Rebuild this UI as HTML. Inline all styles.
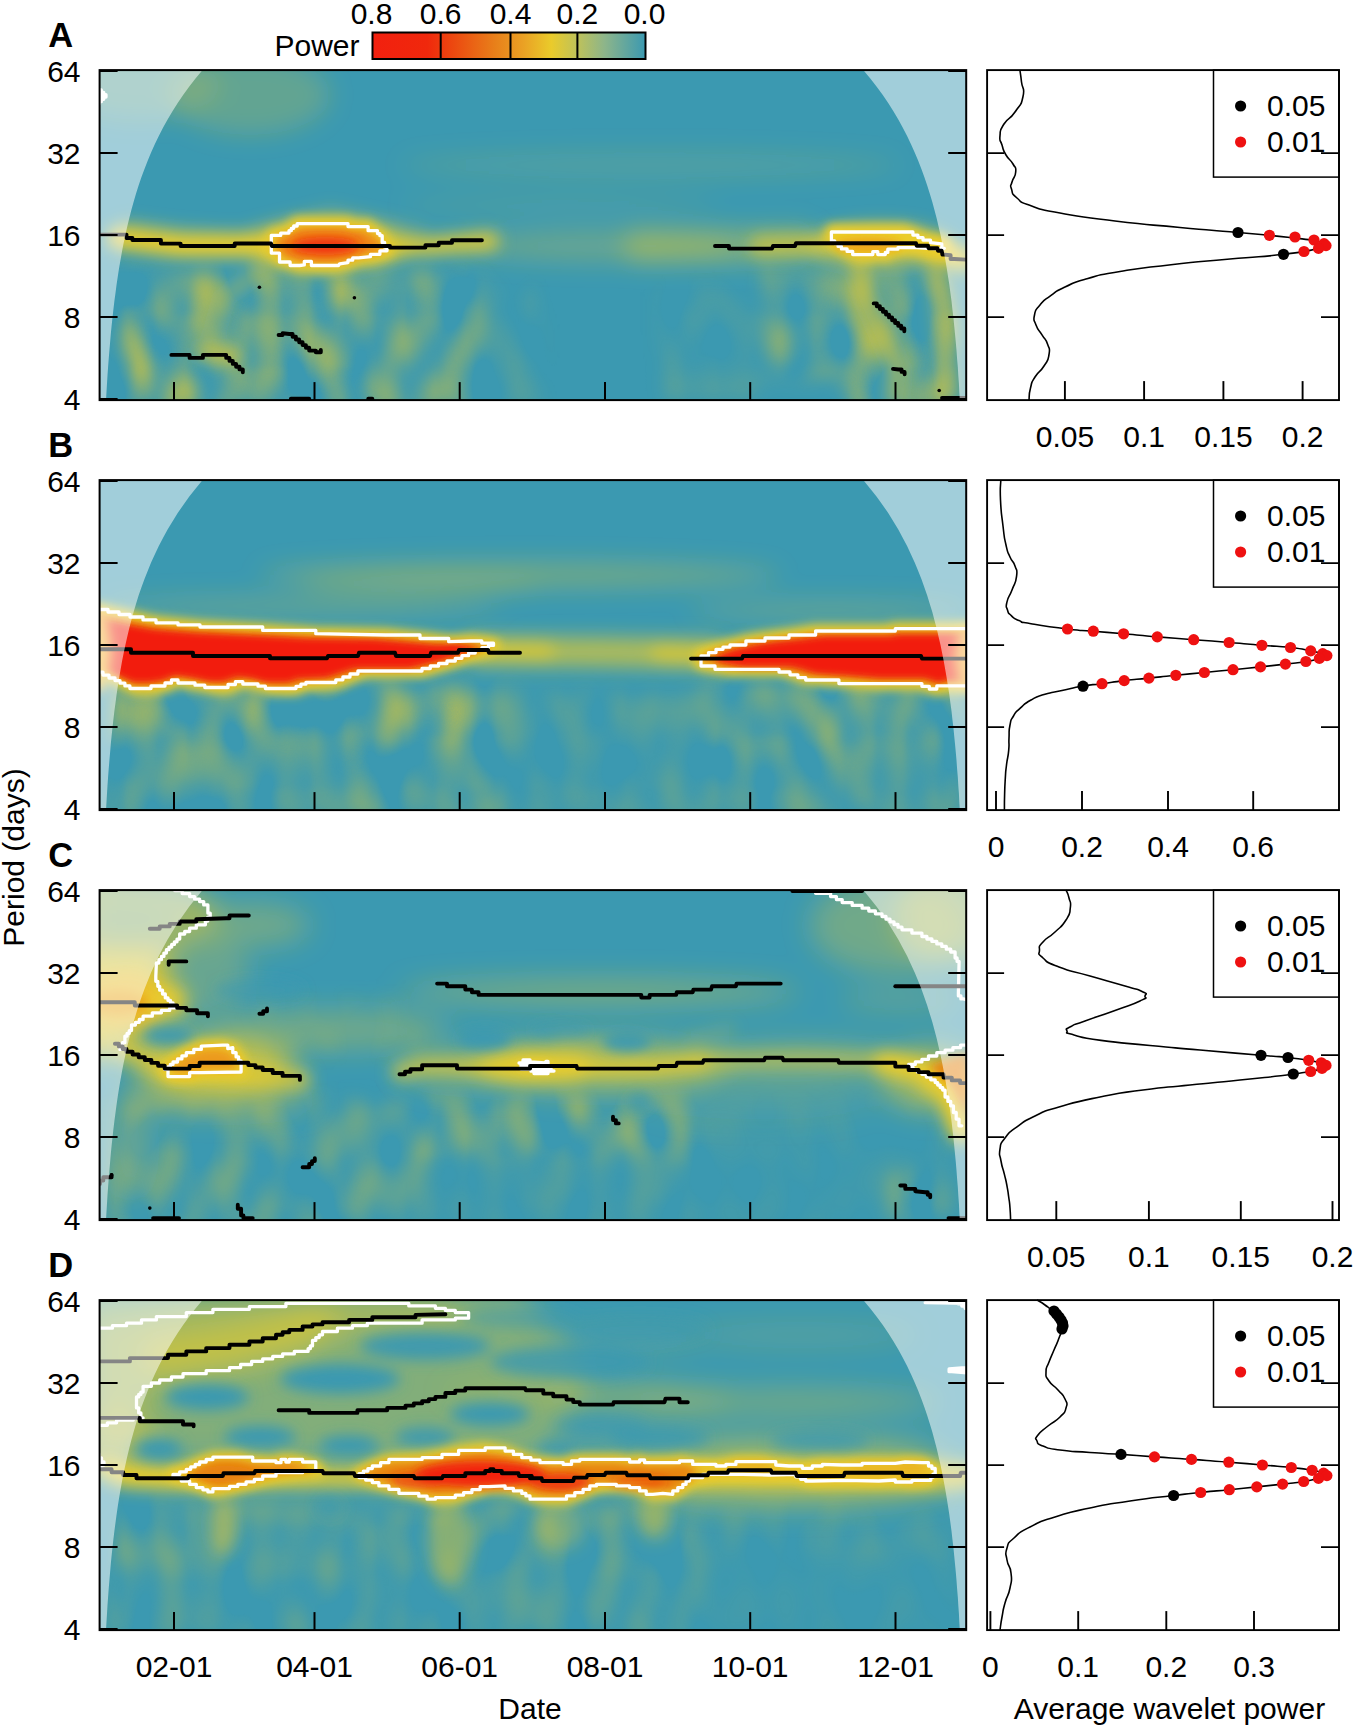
<!DOCTYPE html>
<html><head><meta charset="utf-8"><title>Wavelet power spectra</title>
<style>html,body{margin:0;padding:0;background:#fff}svg{display:block}text{font-family:"Liberation Sans",Arial,Helvetica,sans-serif}</style></head><body>
<svg width="1355" height="1728" viewBox="0 0 1355 1728">
<defs>
<filter id="b2p0" filterUnits="userSpaceOnUse" x="30" y="0" width="1007" height="470"><feGaussianBlur stdDeviation="2"/></filter>
<filter id="b3p0" filterUnits="userSpaceOnUse" x="30" y="0" width="1007" height="470"><feGaussianBlur stdDeviation="3"/></filter>
<filter id="b4p0" filterUnits="userSpaceOnUse" x="30" y="0" width="1007" height="470"><feGaussianBlur stdDeviation="4"/></filter>
<filter id="b5p0" filterUnits="userSpaceOnUse" x="30" y="0" width="1007" height="470"><feGaussianBlur stdDeviation="5"/></filter>
<filter id="b6p0" filterUnits="userSpaceOnUse" x="30" y="0" width="1007" height="470"><feGaussianBlur stdDeviation="6"/></filter>
<filter id="b7p0" filterUnits="userSpaceOnUse" x="30" y="0" width="1007" height="470"><feGaussianBlur stdDeviation="7"/></filter>
<filter id="b8p0" filterUnits="userSpaceOnUse" x="30" y="0" width="1007" height="470"><feGaussianBlur stdDeviation="8"/></filter>
<filter id="b9p0" filterUnits="userSpaceOnUse" x="30" y="0" width="1007" height="470"><feGaussianBlur stdDeviation="9"/></filter>
<filter id="b10p0" filterUnits="userSpaceOnUse" x="30" y="0" width="1007" height="470"><feGaussianBlur stdDeviation="10"/></filter>
<filter id="b12p0" filterUnits="userSpaceOnUse" x="30" y="0" width="1007" height="470"><feGaussianBlur stdDeviation="12"/></filter>
<filter id="b14p0" filterUnits="userSpaceOnUse" x="30" y="0" width="1007" height="470"><feGaussianBlur stdDeviation="14"/></filter>
<filter id="b16p0" filterUnits="userSpaceOnUse" x="30" y="0" width="1007" height="470"><feGaussianBlur stdDeviation="16"/></filter>
<filter id="b20p0" filterUnits="userSpaceOnUse" x="30" y="0" width="1007" height="470"><feGaussianBlur stdDeviation="20"/></filter>
<filter id="b2p1" filterUnits="userSpaceOnUse" x="30" y="410" width="1007" height="470"><feGaussianBlur stdDeviation="2"/></filter>
<filter id="b3p1" filterUnits="userSpaceOnUse" x="30" y="410" width="1007" height="470"><feGaussianBlur stdDeviation="3"/></filter>
<filter id="b4p1" filterUnits="userSpaceOnUse" x="30" y="410" width="1007" height="470"><feGaussianBlur stdDeviation="4"/></filter>
<filter id="b5p1" filterUnits="userSpaceOnUse" x="30" y="410" width="1007" height="470"><feGaussianBlur stdDeviation="5"/></filter>
<filter id="b6p1" filterUnits="userSpaceOnUse" x="30" y="410" width="1007" height="470"><feGaussianBlur stdDeviation="6"/></filter>
<filter id="b7p1" filterUnits="userSpaceOnUse" x="30" y="410" width="1007" height="470"><feGaussianBlur stdDeviation="7"/></filter>
<filter id="b8p1" filterUnits="userSpaceOnUse" x="30" y="410" width="1007" height="470"><feGaussianBlur stdDeviation="8"/></filter>
<filter id="b9p1" filterUnits="userSpaceOnUse" x="30" y="410" width="1007" height="470"><feGaussianBlur stdDeviation="9"/></filter>
<filter id="b10p1" filterUnits="userSpaceOnUse" x="30" y="410" width="1007" height="470"><feGaussianBlur stdDeviation="10"/></filter>
<filter id="b12p1" filterUnits="userSpaceOnUse" x="30" y="410" width="1007" height="470"><feGaussianBlur stdDeviation="12"/></filter>
<filter id="b14p1" filterUnits="userSpaceOnUse" x="30" y="410" width="1007" height="470"><feGaussianBlur stdDeviation="14"/></filter>
<filter id="b16p1" filterUnits="userSpaceOnUse" x="30" y="410" width="1007" height="470"><feGaussianBlur stdDeviation="16"/></filter>
<filter id="b20p1" filterUnits="userSpaceOnUse" x="30" y="410" width="1007" height="470"><feGaussianBlur stdDeviation="20"/></filter>
<filter id="b2p2" filterUnits="userSpaceOnUse" x="30" y="820" width="1007" height="470"><feGaussianBlur stdDeviation="2"/></filter>
<filter id="b3p2" filterUnits="userSpaceOnUse" x="30" y="820" width="1007" height="470"><feGaussianBlur stdDeviation="3"/></filter>
<filter id="b4p2" filterUnits="userSpaceOnUse" x="30" y="820" width="1007" height="470"><feGaussianBlur stdDeviation="4"/></filter>
<filter id="b5p2" filterUnits="userSpaceOnUse" x="30" y="820" width="1007" height="470"><feGaussianBlur stdDeviation="5"/></filter>
<filter id="b6p2" filterUnits="userSpaceOnUse" x="30" y="820" width="1007" height="470"><feGaussianBlur stdDeviation="6"/></filter>
<filter id="b7p2" filterUnits="userSpaceOnUse" x="30" y="820" width="1007" height="470"><feGaussianBlur stdDeviation="7"/></filter>
<filter id="b8p2" filterUnits="userSpaceOnUse" x="30" y="820" width="1007" height="470"><feGaussianBlur stdDeviation="8"/></filter>
<filter id="b9p2" filterUnits="userSpaceOnUse" x="30" y="820" width="1007" height="470"><feGaussianBlur stdDeviation="9"/></filter>
<filter id="b10p2" filterUnits="userSpaceOnUse" x="30" y="820" width="1007" height="470"><feGaussianBlur stdDeviation="10"/></filter>
<filter id="b12p2" filterUnits="userSpaceOnUse" x="30" y="820" width="1007" height="470"><feGaussianBlur stdDeviation="12"/></filter>
<filter id="b14p2" filterUnits="userSpaceOnUse" x="30" y="820" width="1007" height="470"><feGaussianBlur stdDeviation="14"/></filter>
<filter id="b16p2" filterUnits="userSpaceOnUse" x="30" y="820" width="1007" height="470"><feGaussianBlur stdDeviation="16"/></filter>
<filter id="b20p2" filterUnits="userSpaceOnUse" x="30" y="820" width="1007" height="470"><feGaussianBlur stdDeviation="20"/></filter>
<filter id="b2p3" filterUnits="userSpaceOnUse" x="30" y="1230" width="1007" height="470"><feGaussianBlur stdDeviation="2"/></filter>
<filter id="b3p3" filterUnits="userSpaceOnUse" x="30" y="1230" width="1007" height="470"><feGaussianBlur stdDeviation="3"/></filter>
<filter id="b4p3" filterUnits="userSpaceOnUse" x="30" y="1230" width="1007" height="470"><feGaussianBlur stdDeviation="4"/></filter>
<filter id="b5p3" filterUnits="userSpaceOnUse" x="30" y="1230" width="1007" height="470"><feGaussianBlur stdDeviation="5"/></filter>
<filter id="b6p3" filterUnits="userSpaceOnUse" x="30" y="1230" width="1007" height="470"><feGaussianBlur stdDeviation="6"/></filter>
<filter id="b7p3" filterUnits="userSpaceOnUse" x="30" y="1230" width="1007" height="470"><feGaussianBlur stdDeviation="7"/></filter>
<filter id="b8p3" filterUnits="userSpaceOnUse" x="30" y="1230" width="1007" height="470"><feGaussianBlur stdDeviation="8"/></filter>
<filter id="b9p3" filterUnits="userSpaceOnUse" x="30" y="1230" width="1007" height="470"><feGaussianBlur stdDeviation="9"/></filter>
<filter id="b10p3" filterUnits="userSpaceOnUse" x="30" y="1230" width="1007" height="470"><feGaussianBlur stdDeviation="10"/></filter>
<filter id="b12p3" filterUnits="userSpaceOnUse" x="30" y="1230" width="1007" height="470"><feGaussianBlur stdDeviation="12"/></filter>
<filter id="b14p3" filterUnits="userSpaceOnUse" x="30" y="1230" width="1007" height="470"><feGaussianBlur stdDeviation="14"/></filter>
<filter id="b16p3" filterUnits="userSpaceOnUse" x="30" y="1230" width="1007" height="470"><feGaussianBlur stdDeviation="16"/></filter>
<filter id="b20p3" filterUnits="userSpaceOnUse" x="30" y="1230" width="1007" height="470"><feGaussianBlur stdDeviation="20"/></filter>
<linearGradient id="cb" x1="0" x2="1" y1="0" y2="0"><stop offset="0" stop-color="#f2200f"/><stop offset="0.2" stop-color="#f0280c"/><stop offset="0.3" stop-color="#ec4a10"/><stop offset="0.45" stop-color="#e8801a"/><stop offset="0.55" stop-color="#eaa024"/><stop offset="0.655" stop-color="#eacb2b"/><stop offset="0.75" stop-color="#bfc25a"/><stop offset="0.85" stop-color="#8db58a"/><stop offset="1" stop-color="#3b99b1"/></linearGradient>
<filter id="nz" x="0" y="0" width="100%" height="100%" color-interpolation-filters="sRGB"><feTurbulence type="fractalNoise" baseFrequency="0.032 0.019" numOctaves="1" seed="3"/><feColorMatrix type="matrix" values="0 0 0 0 0.92  0 0 0 0 0.80  0 0 0 0 0.16  2.3 0 0 0 -0.86"/></filter>
<mask id="mk0" maskUnits="userSpaceOnUse" x="99.6" y="70.1" width="866.6" height="330.0"><g filter="url(#b10p0)"><rect x="120.0" y="272.0" width="240.0" height="138.0" fill="#fff" fill-opacity="0.7"/><rect x="360.0" y="272.0" width="120.0" height="138.0" fill="#fff" fill-opacity="0.5"/><rect x="480.0" y="290.0" width="60.0" height="120.0" fill="#fff" fill-opacity="0.15"/><rect x="845.0" y="268.0" width="115.0" height="142.0" fill="#fff" fill-opacity="0.7"/><rect x="760.0" y="270.0" width="85.0" height="110.0" fill="#fff" fill-opacity="0.45"/><rect x="660.0" y="290.0" width="100.0" height="110.0" fill="#fff" fill-opacity="0.15"/></g></mask>
<mask id="mk1" maskUnits="userSpaceOnUse" x="99.6" y="480.1" width="866.6" height="330.0"><g filter="url(#b10p1)"><rect x="110.0" y="682.0" width="390.0" height="68.0" fill="#fff" fill-opacity="0.6"/><rect x="110.0" y="750.0" width="390.0" height="70.0" fill="#fff" fill-opacity="0.4"/><rect x="500.0" y="690.0" width="200.0" height="130.0" fill="#fff" fill-opacity="0.2"/><rect x="700.0" y="682.0" width="260.0" height="78.0" fill="#fff" fill-opacity="0.5"/><rect x="700.0" y="760.0" width="260.0" height="60.0" fill="#fff" fill-opacity="0.33"/></g></mask>
<mask id="mk2" maskUnits="userSpaceOnUse" x="99.6" y="890.1" width="866.6" height="330.0"><g filter="url(#b10p2)"><rect x="110.0" y="1100.0" width="310.0" height="130.0" fill="#fff" fill-opacity="0.33"/><rect x="420.0" y="1095.0" width="280.0" height="65.0" fill="#fff" fill-opacity="0.5"/><rect x="420.0" y="1160.0" width="280.0" height="70.0" fill="#fff" fill-opacity="0.15"/><rect x="700.0" y="1100.0" width="260.0" height="130.0" fill="#fff" fill-opacity="0.08"/><rect x="890.0" y="1170.0" width="60.0" height="45.0" fill="#fff" fill-opacity="0.4"/><rect x="250.0" y="1000.0" width="170.0" height="50.0" fill="#fff" fill-opacity="0.12"/></g></mask>
<mask id="mk3" maskUnits="userSpaceOnUse" x="99.6" y="1300.1" width="866.6" height="330.0"><g filter="url(#b10p3)"><rect x="110.0" y="1500.0" width="590.0" height="70.0" fill="#fff" fill-opacity="0.35"/><rect x="110.0" y="1570.0" width="590.0" height="70.0" fill="#fff" fill-opacity="0.22"/><rect x="700.0" y="1495.0" width="250.0" height="65.0" fill="#fff" fill-opacity="0.15"/><rect x="700.0" y="1560.0" width="250.0" height="80.0" fill="#fff" fill-opacity="0.06"/></g></mask>
<clipPath id="cp0"><rect x="99.6" y="70.1" width="866.6" height="330.0"/></clipPath>
<clipPath id="cp1"><rect x="99.6" y="480.1" width="866.6" height="330.0"/></clipPath>
<clipPath id="cp2"><rect x="99.6" y="890.1" width="866.6" height="330.0"/></clipPath>
<clipPath id="cp3"><rect x="99.6" y="1300.1" width="866.6" height="330.0"/></clipPath>
</defs>
<rect width="1355" height="1728" fill="#fff"/>
<g clip-path="url(#cp0)">
<rect x="99.6" y="70.1" width="866.6" height="330.0" fill="#3b99b1"/>
<rect x="99.6" y="70.1" width="866.6" height="330.0" filter="url(#nz)" mask="url(#mk0)"/>
<g filter="url(#b12p0)"><ellipse cx="600.0" cy="246.0" rx="140.0" ry="16.0" fill="#ebcd2a" fill-opacity="0.25"/><ellipse cx="650.0" cy="165.0" rx="250.0" ry="13.0" fill="#ebcd2a" fill-opacity="0.13"/><ellipse cx="560.0" cy="205.0" rx="160.0" ry="9.0" fill="#ebcd2a" fill-opacity="0.1"/><ellipse cx="250.0" cy="95.0" rx="80.0" ry="40.0" fill="#ebcd2a" fill-opacity="0.22"/><ellipse cx="140.0" cy="85.0" rx="80.0" ry="35.0" fill="#ebcd2a" fill-opacity="0.18"/><polyline points="640.0,246.0 720.0,246.0 800.0,245.0" fill="none" stroke="#ebcd2a" stroke-width="34" stroke-opacity="0.35" stroke-linecap="round" stroke-linejoin="round"/></g>
<g filter="url(#b8p0)"><polyline points="118.0,238.0 180.0,246.0 271.0,246.0" fill="none" stroke="#ebcd2a" stroke-width="22" stroke-opacity="1" stroke-linecap="round" stroke-linejoin="round"/><polyline points="385.0,246.0 430.0,246.0 490.0,241.0" fill="none" stroke="#ebcd2a" stroke-width="19" stroke-opacity="0.85" stroke-linecap="round" stroke-linejoin="round"/><ellipse cx="328.0" cy="246.0" rx="85.0" ry="28.0" fill="#ebcd2a" fill-opacity="0.55"/><ellipse cx="880.0" cy="246.0" rx="75.0" ry="24.0" fill="#ebcd2a" fill-opacity="0.5"/><polyline points="125.0,225.0 180.0,232.0 250.0,236.0" fill="none" stroke="#ebcd2a" stroke-width="10" stroke-opacity="0.35" stroke-linecap="round" stroke-linejoin="round"/><polyline points="250.0,232.0 330.0,212.0 420.0,232.0" fill="none" stroke="#ebcd2a" stroke-width="10" stroke-opacity="0.25" stroke-linecap="round" stroke-linejoin="round"/><polyline points="760.0,246.0 830.0,244.0" fill="none" stroke="#ebcd2a" stroke-width="22" stroke-opacity="0.6" stroke-linecap="round" stroke-linejoin="round"/><polyline points="930.0,250.0 962.0,259.0" fill="none" stroke="#ebcd2a" stroke-width="24" stroke-opacity="1" stroke-linecap="round" stroke-linejoin="round"/><polyline points="200.0,352.0 235.0,356.0" fill="none" stroke="#ebcd2a" stroke-width="13.6" stroke-opacity="0.69" stroke-linecap="round" stroke-linejoin="round"/><polyline points="265.0,268.0 224.0,297.0 212.0,341.7" fill="none" stroke="#ebcd2a" stroke-width="13.6" stroke-opacity="0.345" stroke-linecap="round" stroke-linejoin="round"/><polyline points="854.0,256.0 866.5,297.0 883.5,336.0 898.0,370.5 895.7,399.7" fill="none" stroke="#ebcd2a" stroke-width="15.3" stroke-opacity="0.575" stroke-linecap="round" stroke-linejoin="round"/><polyline points="932.0,253.6 939.6,297.4 944.4,346.0 949.3,394.8" fill="none" stroke="#ebcd2a" stroke-width="13.6" stroke-opacity="0.46" stroke-linecap="round" stroke-linejoin="round"/></g>
<g filter="url(#b5p0)"><polygon points="271.3,240.7 273.6,235.4 280.7,233.1 289.0,230.7 293.7,226.0 297.2,223.6 348.0,223.6 350.4,226.6 368.1,226.6 371.6,230.7 377.5,233.6 382.2,237.8 384.6,242.5 387.0,247.2 387.0,250.8 379.9,254.3 370.4,256.7 358.6,257.9 352.7,260.2 348.0,262.6 339.7,263.8 338.5,265.5 311.4,265.5 307.9,261.4 304.3,264.9 299.6,265.5 290.1,262.0 279.5,259.0 276.0,253.1 271.3,249.6" fill="#ebcd2a" fill-opacity="1" stroke="#ebcd2a" stroke-width="14" stroke-linejoin="round" stroke-opacity="1"/><polygon points="831.4,238.2 833.2,232.0 904.1,232.0 912.9,235.1 923.0,240.1 930.5,242.6 941.8,243.9 944.3,248.3 941.8,249.2 928.0,248.3 916.7,247.7 897.9,249.2 887.8,252.4 885.3,254.6 877.8,251.7 872.8,254.6 862.7,254.6 852.7,251.4 841.4,246.4" fill="#ebcd2a" fill-opacity="1" stroke="#ebcd2a" stroke-width="16" stroke-linejoin="round" stroke-opacity="1"/></g>
<g filter="url(#b4p0)"><polygon points="274.8,241.7 277.0,237.3 283.6,235.3 291.4,233.3 295.8,229.3 299.2,227.4 346.9,227.4 349.1,229.8 365.8,229.8 369.1,233.3 374.6,235.8 379.1,239.3 381.3,243.2 383.5,247.2 383.5,250.2 376.9,253.1 368.0,255.1 356.9,256.1 351.3,258.1 346.9,260.1 339.1,261.1 338.0,262.6 312.5,262.6 309.2,259.1 305.8,262.1 301.4,262.6 292.5,259.6 282.5,257.1 279.2,252.2 274.8,249.2" fill="#ee8a12" fill-opacity="1"/><ellipse cx="868.0" cy="245.0" rx="34.0" ry="7.0" fill="#eda018" fill-opacity="0.9"/></g>
<g filter="url(#b6p0)"><ellipse cx="325.0" cy="246.0" rx="36.0" ry="9.0" fill="#f21f0e" fill-opacity="0.85"/></g>
<g fill="none" stroke="#fff" stroke-width="3.3" stroke-linejoin="round" stroke-linecap="round">
<polygon points="271.3,240.7 271.3,235.4 273.6,235.4 280.7,235.4 280.7,233.1 289.0,233.1 289.0,230.7 291.3,230.7 291.3,228.3 293.7,228.3 293.7,226.0 297.2,226.0 297.2,223.6 348.0,223.6 348.0,226.6 350.4,226.6 368.1,226.6 368.1,230.7 371.6,230.7 377.5,230.7 377.5,233.6 379.9,233.6 379.9,235.7 382.2,235.7 382.2,237.8 382.2,242.5 384.6,242.5 384.6,247.2 387.0,247.2 387.0,250.8 379.9,250.8 379.9,254.3 370.4,254.3 370.4,256.7 358.6,257.9 352.7,257.9 352.7,260.2 348.0,260.2 348.0,262.6 339.7,263.8 338.5,265.5 311.4,265.5 311.4,261.4 307.9,261.4 304.3,261.4 304.3,264.9 299.6,265.5 290.1,265.5 290.1,262.0 279.5,262.0 279.5,259.0 279.5,253.1 276.0,253.1 271.3,253.1 271.3,249.6 271.3,240.7"/>
<polygon points="831.4,238.2 831.4,232.0 833.2,232.0 904.1,232.0 912.9,232.0 912.9,235.1 917.9,235.1 917.9,237.6 923.0,237.6 923.0,240.1 930.5,240.1 930.5,242.6 941.8,243.9 941.8,248.3 944.3,248.3 941.8,249.2 928.0,248.3 916.7,247.7 897.9,247.7 897.9,249.2 887.8,249.2 887.8,252.4 885.3,252.4 885.3,254.6 877.8,254.6 877.8,251.7 872.8,251.7 872.8,254.6 862.7,254.6 852.7,254.6 852.7,251.4 847.1,251.4 847.1,248.9 841.4,248.9 841.4,246.4 838.1,246.4 838.1,243.7 834.7,243.7 834.7,241.0 831.4,241.0 831.4,238.2"/>
<polygon points="99.0,90.0 101.3,90.0 101.3,92.3 103.7,92.3 103.7,94.7 106.0,94.7 106.0,97.0 103.7,97.0 103.7,99.3 101.3,99.3 101.3,101.7 99.0,101.7 99.0,104.0 99.0,90.0" fill="#fff"/>
</g>
<g fill="none" stroke="#000" stroke-width="3.9" stroke-linejoin="round" stroke-linecap="round">
<polyline points="100.0,234.6 126.5,234.6 126.5,238.0 132.4,238.0 132.4,240.0 160.9,240.0 160.9,243.6 180.6,243.6 180.6,246.0 234.7,246.0 234.7,243.5 236.0,243.5 271.0,243.5 272.0,246.0 388.0,246.0 390.0,246.0 390.0,247.6 425.4,247.6 425.4,245.3 427.0,245.3 438.7,245.3 438.7,242.7 452.0,242.7 452.0,240.3 481.9,240.3"/>
<polyline points="715.0,246.0 729.0,246.0 729.0,248.6 731.0,248.6 772.0,248.6 773.0,246.0 795.0,246.0 796.0,243.3 916.0,243.3 916.7,245.8 928.0,245.8 928.6,248.3 937.4,248.3 938.0,250.8 941.8,250.8 942.4,254.6 944.3,254.6 950.6,255.2 950.6,259.0 954.3,259.0 966.0,259.6"/>
<polyline points="171.4,354.9 181.3,354.9 189.6,354.9 189.6,357.9 202.9,357.9 202.9,354.9 222.8,354.9 226.2,354.9 226.2,357.9 229.5,357.9 229.5,360.9 232.8,360.9 232.8,363.9 236.1,363.9 236.1,366.7 239.5,366.7 239.5,369.4 242.8,369.4 242.8,372.2"/>
<polyline points="278.6,335.0 282.6,335.0 282.6,333.3 289.3,334.0 292.6,334.0 292.6,336.8 295.9,336.8 295.9,339.5 299.2,339.5 299.2,342.3 302.6,342.3 302.6,345.1 305.9,345.1 305.9,347.8 309.2,347.8 309.2,350.6 315.8,350.6 315.8,352.3 320.8,352.3 320.8,349.9"/>
<polyline points="873.7,303.4 876.8,303.4 876.8,306.2 879.9,306.2 879.9,309.0 882.9,309.0 882.9,311.8 886.0,311.8 886.0,314.6 889.0,314.6 889.0,317.4 892.1,317.4 892.1,320.2 895.1,320.2 895.1,323.0 898.2,323.0 898.2,325.8 901.2,325.8 901.2,328.5 904.3,328.5 904.3,331.3"/>
<polyline points="893.0,368.9 898.6,369.5 901.6,369.5 901.6,371.9 904.6,371.9 904.6,374.2"/>
<polyline points="942.0,398.0 966.0,398.0"/>
<polyline points="290.9,398.8 309.2,398.8"/>
<polyline points="368.3,398.8 372.3,398.8"/>
</g>
<g fill="#000">
<circle cx="259.4" cy="287.2" r="1.8"/>
<circle cx="354.4" cy="297.8" r="1.8"/>
<circle cx="939.2" cy="390.5" r="1.8"/>
</g>
<path d="M99.6,70.1 L202.6,70.1 L195.7,78.3 L189.3,86.6 L183.3,94.8 L177.7,103.1 L172.5,111.3 L167.6,119.6 L163.0,127.8 L158.8,136.1 L154.8,144.3 L151.1,152.6 L147.7,160.8 L144.5,169.1 L141.4,177.3 L138.6,185.6 L136.0,193.8 L133.6,202.1 L131.3,210.3 L129.2,218.6 L127.2,226.8 L125.4,235.1 L123.6,243.3 L122.0,251.6 L120.5,259.9 L119.1,268.1 L117.8,276.4 L116.6,284.6 L115.5,292.9 L114.4,301.1 L113.4,309.4 L112.5,317.6 L111.6,325.9 L110.8,334.1 L110.1,342.4 L109.4,350.6 L108.7,358.9 L108.1,367.1 L107.5,375.4 L107.0,383.6 L106.5,391.9 L106.0,400.1 L99.6,400.1 Z M966.2,70.1 L863.2,70.1 L870.1,78.3 L876.5,86.6 L882.6,94.8 L888.2,103.1 L893.4,111.3 L898.3,119.6 L902.8,127.8 L907.1,136.1 L911.0,144.3 L914.7,152.6 L918.2,160.8 L921.4,169.1 L924.4,177.3 L927.2,185.6 L929.8,193.8 L932.3,202.1 L934.5,210.3 L936.7,218.6 L938.6,226.8 L940.5,235.1 L942.2,243.3 L943.8,251.6 L945.3,259.9 L946.7,268.1 L948.0,276.4 L949.3,284.6 L950.4,292.9 L951.5,301.1 L952.4,309.4 L953.4,317.6 L954.2,325.9 L955.0,334.1 L955.8,342.4 L956.5,350.6 L957.1,358.9 L957.8,367.1 L958.3,375.4 L958.9,383.6 L959.3,391.9 L959.8,400.1 L966.2,400.1 Z" fill="#fff" fill-opacity="0.52"/>
</g>
<g stroke="#000" stroke-width="2" fill="none">
<path d="M99.6,71.1h18M966.2,71.1h-18"/>
<path d="M99.6,153.1h18M966.2,153.1h-18"/>
<path d="M99.6,235.1h18M966.2,235.1h-18"/>
<path d="M99.6,317.1h18M966.2,317.1h-18"/>
<path d="M99.6,399.1h18M966.2,399.1h-18"/>
<path d="M174.0,400.1v-18"/>
<path d="M314.5,400.1v-18"/>
<path d="M459.7,400.1v-18"/>
<path d="M605.0,400.1v-18"/>
<path d="M750.2,400.1v-18"/>
<path d="M895.5,400.1v-18"/>
<rect x="99.6" y="70.1" width="866.6" height="330.0"/>
</g>
<g font-size="30" text-anchor="end" fill="#000">
<text x="80.5" y="81.6">64</text>
<text x="80.5" y="163.6">32</text>
<text x="80.5" y="245.6">16</text>
<text x="80.5" y="327.6">8</text>
<text x="80.5" y="409.6">4</text>
</g>
<text x="48.3" y="46.9" font-size="34.5" font-weight="bold" fill="#000">A</text>
<g stroke="#000" fill="none">
<path d="M1019.9,70.0C1020.4,74.0 1020.5,73.2 1021.5,82.0C1022.5,90.8 1025.2,86.5 1023.0,96.5C1020.8,106.5 1021.3,102.8 1015.0,112.0C1008.7,121.2 1009.0,116.1 1004.0,124.0C999.0,131.9 1000.7,128.7 1000.0,135.7C999.3,142.7 1000.0,138.6 1002.0,145.0C1004.0,151.4 1002.3,148.7 1006.0,155.0C1009.7,161.3 1009.8,158.3 1013.0,164.0C1016.2,169.7 1016.0,166.0 1015.7,172.0C1015.4,178.0 1013.4,176.3 1012.0,182.0C1010.6,187.7 1009.8,183.7 1011.5,189.0C1013.2,194.3 1010.5,192.4 1017.0,198.0C1023.5,203.6 1016.7,200.8 1031.0,205.8C1045.3,210.8 1032.0,207.9 1060.0,213.0C1088.0,218.1 1075.0,216.2 1115.0,221.0C1155.0,225.8 1139.0,223.7 1180.0,227.5C1221.0,231.3 1201.3,229.2 1238.0,232.5C1274.7,235.8 1263.3,234.5 1290.0,237.5C1316.7,240.5 1305.7,239.0 1318.0,241.5C1330.3,244.0 1327.0,242.7 1327.0,245.0C1327.0,247.3 1332.5,245.4 1318.0,248.5C1303.5,251.6 1312.8,250.8 1283.5,254.3C1254.2,257.8 1267.5,255.5 1230.0,259.0C1192.5,262.5 1207.7,260.5 1171.0,264.7C1134.3,268.9 1148.0,266.8 1120.0,271.5C1092.0,276.2 1105.3,273.5 1087.0,278.7C1068.7,283.9 1077.1,281.4 1065.0,287.0C1052.9,292.6 1059.0,289.6 1050.7,295.6C1042.4,301.6 1045.4,298.5 1040.0,305.0C1034.6,311.5 1035.8,308.3 1034.5,315.0C1033.2,321.7 1033.5,318.4 1036.0,325.0C1038.5,331.6 1038.2,328.5 1042.0,334.8C1045.8,341.1 1045.2,337.4 1047.5,344.0C1049.8,350.6 1050.2,347.2 1049.0,354.5C1047.8,361.8 1048.7,358.5 1044.0,366.0C1039.3,373.5 1039.5,369.7 1035.0,377.0C1030.5,384.3 1032.5,380.3 1030.5,388.0C1028.5,395.7 1029.5,396.0 1029.0,400.0" stroke-width="1.6" stroke-linejoin="round"/>
</g>
<g fill="#000"><circle cx="1238.0" cy="232.5" r="5.6"/><circle cx="1283.5" cy="254.3" r="5.6"/></g>
<g fill="#ee1111"><circle cx="1269.4" cy="235.3" r="5.6"/><circle cx="1295.0" cy="237.0" r="5.6"/><circle cx="1314.0" cy="240.0" r="5.6"/><circle cx="1324.0" cy="243.7" r="5.6"/><circle cx="1326.0" cy="245.6" r="5.6"/><circle cx="1318.5" cy="248.4" r="5.6"/><circle cx="1304.0" cy="251.5" r="5.6"/></g>
<rect x="1213.5" y="70.1" width="125.5" height="107" fill="#fff" stroke="#000" stroke-width="1.5"/>
<g stroke="#000" stroke-width="1.9" fill="none">
<path d="M987.1,153.1h17M1339.0,153.1h-18"/>
<path d="M987.1,235.1h17M1339.0,235.1h-18"/>
<path d="M987.1,317.1h17M1339.0,317.1h-18"/>
<path d="M1064.9,400.1v-19"/>
<path d="M1144.1,400.1v-19"/>
<path d="M1223.4,400.1v-19"/>
<path d="M1302.6,400.1v-19"/>
<rect x="987.1" y="70.1" width="351.9" height="330.0"/>
</g>
<circle cx="1240.6" cy="106.0" r="5.6" fill="#000"/><circle cx="1240.6" cy="142.0" r="5.6" fill="#ee1111"/>
<g font-size="30" fill="#000"><text x="1267" y="116.1">0.05</text><text x="1267" y="152.1">0.01</text></g>
<g font-size="30" text-anchor="middle" fill="#000">
<text x="1064.9" y="447.4">0.05</text>
<text x="1144.1" y="447.4">0.1</text>
<text x="1223.4" y="447.4">0.15</text>
<text x="1302.6" y="447.4">0.2</text>
</g>
<g clip-path="url(#cp1)">
<rect x="99.6" y="480.1" width="866.6" height="330.0" fill="#3b99b1"/>
<rect x="99.6" y="480.1" width="866.6" height="330.0" filter="url(#nz)" mask="url(#mk1)"/>
<g filter="url(#b12p1)"><ellipse cx="520.0" cy="575.0" rx="260.0" ry="13.0" fill="#ebcd2a" fill-opacity="0.3"/><ellipse cx="420.0" cy="585.0" rx="120.0" ry="12.0" fill="#ebcd2a" fill-opacity="0.15"/><ellipse cx="300.0" cy="606.0" rx="200.0" ry="9.0" fill="#ebcd2a" fill-opacity="0.25"/><ellipse cx="830.0" cy="610.0" rx="140.0" ry="9.0" fill="#ebcd2a" fill-opacity="0.25"/></g>
<g filter="url(#b8p1)"><polyline points="480.0,651.0 600.0,652.0 710.0,654.0" fill="none" stroke="#ebcd2a" stroke-width="20" stroke-opacity="0.5" stroke-linecap="round" stroke-linejoin="round"/><polyline points="480.0,651.0 600.0,652.0 710.0,654.0" fill="none" stroke="#ebcd2a" stroke-width="40" stroke-opacity="0.3" stroke-linecap="round" stroke-linejoin="round"/><polyline points="480.0,650.0 545.0,651.0" fill="none" stroke="#ebcd2a" stroke-width="20" stroke-opacity="0.6" stroke-linecap="round" stroke-linejoin="round"/><polyline points="660.0,653.0 710.0,655.0" fill="none" stroke="#ebcd2a" stroke-width="20" stroke-opacity="0.6" stroke-linecap="round" stroke-linejoin="round"/></g>
<g filter="url(#b5p1)"><polygon points="97.0,609.5 130.0,617.0 156.0,622.8 200.0,627.0 262.7,630.4 315.8,633.7 385.6,635.0 420.0,638.5 448.7,641.7 470.0,641.0 493.5,645.4 488.5,647.7 455.3,661.0 422.0,671.0 365.7,671.0 350.0,677.0 335.8,682.5 305.9,684.2 296.0,688.5 272.7,688.5 258.0,684.0 242.8,681.6 228.0,687.5 214.5,687.5 195.0,683.0 178.0,680.0 165.0,686.0 151.0,688.5 134.8,688.5 115.0,678.0 97.0,669.3" fill="#ebcd2a" fill-opacity="1" stroke="#ebcd2a" stroke-width="14" stroke-linejoin="round" stroke-opacity="1"/><polygon points="701.0,656.0 716.0,649.3 730.0,645.0 745.9,641.0 765.0,638.0 789.0,635.0 815.6,631.0 885.4,631.0 895.3,628.7 970.0,628.7 970.0,685.9 945.0,685.9 936.8,689.0 921.9,683.6 875.4,683.6 838.9,680.0 805.7,677.6 790.0,672.0 779.0,669.3 729.3,669.3 715.0,666.0 701.0,662.6" fill="#ebcd2a" fill-opacity="1" stroke="#ebcd2a" stroke-width="14" stroke-linejoin="round" stroke-opacity="1"/></g>
<g filter="url(#b3p1)"><polygon points="97.0,612.8 130.0,619.7 156.0,625.1 200.0,629.0 262.7,632.2 315.8,635.3 385.6,636.5 420.0,639.7 448.7,642.7 470.0,642.0 493.5,646.1 488.5,648.3 455.3,660.6 422.0,670.0 365.7,670.0 350.0,675.5 335.8,680.6 305.9,682.2 296.0,686.2 272.7,686.2 258.0,682.0 242.8,679.8 228.0,685.3 214.5,685.3 195.0,681.1 178.0,678.3 165.0,683.9 151.0,686.2 134.8,686.2 115.0,676.5 97.0,668.4" fill="#e8820f" fill-opacity="1"/><polygon points="701.0,656.0 716.0,649.8 730.0,645.8 745.9,642.0 765.0,639.3 789.0,636.5 815.6,632.8 885.4,632.8 895.3,630.6 970.0,630.6 970.0,683.8 945.0,683.8 936.8,686.7 921.9,681.7 875.4,681.7 838.9,678.3 805.7,676.1 790.0,670.9 779.0,668.4 729.3,668.4 715.0,665.3 701.0,662.1" fill="#e8820f" fill-opacity="1"/></g>
<g filter="url(#b3p1)"><polygon points="97.1,619.0 128.8,625.0 153.8,629.6 196.0,633.0 256.2,635.7 307.2,638.4 374.2,639.4 407.2,642.2 434.8,644.8 455.2,644.2 477.8,647.7 473.0,649.6 441.1,660.2 409.1,668.2 355.1,668.2 340.0,673.0 326.4,677.4 297.7,678.8 288.2,682.2 265.8,682.2 251.7,678.6 237.1,676.7 222.9,681.4 209.9,681.4 191.2,677.8 174.9,675.4 162.4,680.2 149.0,682.2 133.4,682.2 114.4,673.8 97.1,666.8" fill="#f21f0e" fill-opacity="1"/><polygon points="716.9,656.2 731.0,650.8 744.2,647.4 759.1,644.2 777.1,641.8 799.6,639.4 824.6,636.2 890.2,636.2 899.5,634.4 969.8,634.4 969.8,680.1 946.3,680.1 938.6,682.6 924.5,678.3 880.8,678.3 846.5,675.4 815.3,673.5 800.6,669.0 790.2,666.8 743.5,666.8 730.1,664.2 716.9,661.5" fill="#f21f0e" fill-opacity="1"/></g>
<g filter="url(#b6p1)"><polygon points="88.0,610.0 106.0,614.0 112.0,650.0 106.0,690.0 88.0,692.0" fill="#f2c23a" fill-opacity="0.95"/><polygon points="980.0,626.0 960.0,628.0 954.0,657.0 960.0,688.0 980.0,690.0" fill="#f2c23a" fill-opacity="0.9"/></g>
<g fill="none" stroke="#fff" stroke-width="3.3" stroke-linejoin="round" stroke-linecap="round">
<polygon points="97.0,609.5 108.0,609.5 108.0,612.0 119.0,612.0 119.0,614.5 130.0,614.5 130.0,617.0 143.0,617.0 143.0,619.9 156.0,619.9 156.0,622.8 178.0,622.8 178.0,624.9 200.0,624.9 200.0,627.0 262.7,627.0 262.7,630.4 315.8,630.4 315.8,633.7 385.6,635.0 420.0,635.0 420.0,638.5 448.7,638.5 448.7,641.7 470.0,641.0 481.8,641.0 481.8,643.2 493.5,643.2 493.5,645.4 488.5,645.4 488.5,647.7 481.9,647.7 481.9,650.4 475.2,650.4 475.2,653.0 468.6,653.0 468.6,655.7 461.9,655.7 461.9,658.3 455.3,658.3 455.3,661.0 447.0,661.0 447.0,663.5 438.6,663.5 438.6,666.0 430.3,666.0 430.3,668.5 422.0,668.5 422.0,671.0 365.7,671.0 357.9,671.0 357.9,674.0 350.0,674.0 350.0,677.0 342.9,677.0 342.9,679.8 335.8,679.8 335.8,682.5 305.9,682.5 305.9,684.2 300.9,684.2 300.9,686.4 296.0,686.4 296.0,688.5 272.7,688.5 265.4,688.5 265.4,686.2 258.0,686.2 258.0,684.0 242.8,684.0 242.8,681.6 235.4,681.6 235.4,684.5 228.0,684.5 228.0,687.5 214.5,687.5 204.8,687.5 204.8,685.2 195.0,685.2 195.0,683.0 178.0,683.0 178.0,680.0 171.5,680.0 171.5,683.0 165.0,683.0 165.0,686.0 151.0,686.0 151.0,688.5 134.8,688.5 129.9,688.5 129.9,685.9 124.9,685.9 124.9,683.2 120.0,683.2 120.0,680.6 115.0,680.6 115.0,678.0 109.0,678.0 109.0,675.1 103.0,675.1 103.0,672.2 97.0,672.2 97.0,669.3 97.0,609.5"/>
<polygon points="701.0,656.0 708.5,656.0 708.5,652.6 716.0,652.6 716.0,649.3 723.0,649.3 723.0,647.1 730.0,647.1 730.0,645.0 745.9,645.0 745.9,641.0 765.0,641.0 765.0,638.0 789.0,638.0 789.0,635.0 815.6,635.0 815.6,631.0 885.4,631.0 895.3,631.0 895.3,628.7 970.0,628.7 970.0,685.9 945.0,685.9 936.8,685.9 936.8,689.0 929.3,689.0 929.3,686.3 921.9,686.3 921.9,683.6 875.4,683.6 838.9,683.6 838.9,680.0 805.7,680.0 805.7,677.6 797.9,677.6 797.9,674.8 790.0,674.8 790.0,672.0 779.0,672.0 779.0,669.3 729.3,669.3 715.0,669.3 715.0,666.0 701.0,666.0 701.0,662.6 701.0,656.0"/>
</g>
<g fill="none" stroke="#000" stroke-width="3.9" stroke-linejoin="round" stroke-linecap="round">
<polyline points="100.0,649.3 131.0,649.3 131.0,652.7 133.0,652.7 193.0,652.7 193.0,656.0 195.0,656.0 270.0,656.0 270.0,658.3 272.0,658.3 327.0,658.3 328.0,656.0 358.0,656.0 359.0,652.7 395.0,652.7 396.0,656.0 430.0,656.0 431.0,652.7 458.0,652.7 459.0,650.0 488.0,650.0 489.0,652.7 520.0,652.7"/>
<polyline points="691.0,658.6 742.0,658.6 743.0,656.0 921.0,656.0 922.0,658.6 966.0,658.6"/>
</g>
<g fill="#000">
</g>
<path d="M99.6,480.1 L202.6,480.1 L195.7,488.4 L189.3,496.6 L183.3,504.9 L177.7,513.1 L172.5,521.4 L167.6,529.6 L163.0,537.9 L158.8,546.1 L154.8,554.4 L151.1,562.6 L147.7,570.9 L144.5,579.1 L141.4,587.4 L138.6,595.6 L136.0,603.9 L133.6,612.1 L131.3,620.4 L129.2,628.6 L127.2,636.9 L125.4,645.1 L123.6,653.4 L122.0,661.6 L120.5,669.9 L119.1,678.1 L117.8,686.4 L116.6,694.6 L115.5,702.9 L114.4,711.1 L113.4,719.4 L112.5,727.6 L111.6,735.9 L110.8,744.1 L110.1,752.4 L109.4,760.6 L108.7,768.9 L108.1,777.1 L107.5,785.4 L107.0,793.6 L106.5,801.9 L106.0,810.1 L99.6,810.1 Z M966.2,480.1 L863.2,480.1 L870.1,488.4 L876.5,496.6 L882.6,504.9 L888.2,513.1 L893.4,521.4 L898.3,529.6 L902.8,537.9 L907.1,546.1 L911.0,554.4 L914.7,562.6 L918.2,570.9 L921.4,579.1 L924.4,587.4 L927.2,595.6 L929.8,603.9 L932.3,612.1 L934.5,620.4 L936.7,628.6 L938.6,636.9 L940.5,645.1 L942.2,653.4 L943.8,661.6 L945.3,669.9 L946.7,678.1 L948.0,686.4 L949.3,694.6 L950.4,702.9 L951.5,711.1 L952.4,719.4 L953.4,727.6 L954.2,735.9 L955.0,744.1 L955.8,752.4 L956.5,760.6 L957.1,768.9 L957.8,777.1 L958.3,785.4 L958.9,793.6 L959.3,801.9 L959.8,810.1 L966.2,810.1 Z" fill="#fff" fill-opacity="0.52"/>
</g>
<g stroke="#000" stroke-width="2" fill="none">
<path d="M99.6,481.1h18M966.2,481.1h-18"/>
<path d="M99.6,563.1h18M966.2,563.1h-18"/>
<path d="M99.6,645.1h18M966.2,645.1h-18"/>
<path d="M99.6,727.1h18M966.2,727.1h-18"/>
<path d="M99.6,809.1h18M966.2,809.1h-18"/>
<path d="M174.0,810.1v-18"/>
<path d="M314.5,810.1v-18"/>
<path d="M459.7,810.1v-18"/>
<path d="M605.0,810.1v-18"/>
<path d="M750.2,810.1v-18"/>
<path d="M895.5,810.1v-18"/>
<rect x="99.6" y="480.1" width="866.6" height="330.0"/>
</g>
<g font-size="30" text-anchor="end" fill="#000">
<text x="80.5" y="491.6">64</text>
<text x="80.5" y="573.6">32</text>
<text x="80.5" y="655.6">16</text>
<text x="80.5" y="737.6">8</text>
<text x="80.5" y="819.6">4</text>
</g>
<text x="48.3" y="456.9" font-size="34.5" font-weight="bold" fill="#000">B</text>
<g stroke="#000" fill="none">
<path d="M1000.8,480.0C1000.7,486.7 999.8,484.7 1000.5,500.0C1001.2,515.3 1001.2,511.0 1003.0,526.0C1004.8,541.0 1003.7,534.7 1006.0,545.0C1008.3,555.3 1007.0,550.0 1010.0,557.0C1013.0,564.0 1012.8,559.5 1015.0,566.0C1017.2,572.5 1017.5,568.6 1016.5,576.6C1015.5,584.6 1015.2,581.6 1012.0,590.0C1008.8,598.4 1008.5,595.1 1007.0,601.8C1005.5,608.5 1006.0,605.3 1007.5,610.0C1009.0,614.7 1007.7,612.3 1011.5,615.8C1015.3,619.3 1012.5,617.9 1019.0,620.5C1025.5,623.1 1014.8,620.9 1031.0,623.7C1047.2,626.5 1046.7,626.5 1067.5,629.0C1088.3,631.5 1074.6,629.7 1093.3,631.2C1112.0,632.8 1102.3,631.9 1123.6,633.8C1144.9,635.6 1133.9,634.9 1157.3,636.9C1180.6,638.8 1169.8,637.8 1193.7,639.7C1217.7,641.5 1206.4,640.6 1229.1,642.5C1251.8,644.3 1241.4,643.6 1261.9,645.3C1282.3,646.9 1274.2,645.6 1290.5,647.5C1306.7,649.4 1299.9,648.8 1310.7,650.9C1321.4,652.9 1317.3,652.1 1322.7,653.7C1328.2,655.3 1328.1,654.1 1326.9,655.6C1325.8,657.2 1326.4,656.5 1319.4,658.4C1312.4,660.4 1317.2,659.7 1305.9,661.5C1294.6,663.4 1300.6,662.3 1285.4,664.1C1270.3,665.8 1278.0,665.0 1260.5,666.9C1243.0,668.7 1251.7,667.8 1233.0,669.7C1214.3,671.5 1223.5,670.6 1204.4,672.5C1185.3,674.3 1194.3,673.4 1175.8,675.3C1157.3,677.1 1166.1,676.3 1148.9,678.1C1131.7,679.9 1139.8,678.7 1124.2,680.6C1108.6,682.5 1115.8,681.9 1102.0,683.7C1088.3,685.5 1096.3,683.7 1083.0,686.0C1069.7,688.3 1074.7,687.7 1062.0,690.5C1049.3,693.3 1055.3,691.1 1045.0,694.3C1034.7,697.5 1039.3,695.3 1031.0,700.0C1022.7,704.7 1025.8,703.1 1020.0,708.4C1014.2,713.7 1016.8,710.5 1013.5,716.0C1010.2,721.5 1011.5,717.7 1010.0,725.0C1008.5,732.3 1009.4,729.5 1009.0,738.0C1008.6,746.5 1009.5,741.4 1008.7,750.4C1007.9,759.4 1007.6,755.6 1006.5,765.0C1005.4,774.4 1005.9,768.5 1005.3,778.5C1004.7,788.5 1004.9,784.5 1004.6,795.0C1004.3,805.5 1004.5,805.0 1004.4,810.0" stroke-width="1.6" stroke-linejoin="round"/>
</g>
<g fill="#000"><circle cx="1083.0" cy="686.2" r="5.6"/></g>
<g fill="#ee1111"><circle cx="1067.5" cy="629.0" r="5.6"/><circle cx="1093.3" cy="631.2" r="5.6"/><circle cx="1123.6" cy="633.8" r="5.6"/><circle cx="1157.3" cy="636.9" r="5.6"/><circle cx="1193.7" cy="639.7" r="5.6"/><circle cx="1229.1" cy="642.5" r="5.6"/><circle cx="1261.9" cy="645.3" r="5.6"/><circle cx="1290.5" cy="647.5" r="5.6"/><circle cx="1310.7" cy="650.9" r="5.6"/><circle cx="1322.7" cy="653.7" r="5.6"/><circle cx="1326.9" cy="655.6" r="5.6"/><circle cx="1319.4" cy="658.4" r="5.6"/><circle cx="1305.9" cy="661.5" r="5.6"/><circle cx="1285.4" cy="664.1" r="5.6"/><circle cx="1260.5" cy="666.9" r="5.6"/><circle cx="1233.0" cy="669.7" r="5.6"/><circle cx="1204.4" cy="672.5" r="5.6"/><circle cx="1175.8" cy="675.3" r="5.6"/><circle cx="1148.9" cy="678.1" r="5.6"/><circle cx="1124.2" cy="680.6" r="5.6"/><circle cx="1102.0" cy="683.7" r="5.6"/></g>
<rect x="1213.5" y="480.1" width="125.5" height="107" fill="#fff" stroke="#000" stroke-width="1.5"/>
<g stroke="#000" stroke-width="1.9" fill="none">
<path d="M987.1,563.1h17M1339.0,563.1h-18"/>
<path d="M987.1,645.1h17M1339.0,645.1h-18"/>
<path d="M987.1,727.1h17M1339.0,727.1h-18"/>
<path d="M996.0,810.1v-19"/>
<path d="M1082.0,810.1v-19"/>
<path d="M1168.0,810.1v-19"/>
<path d="M1253.2,810.1v-19"/>
<rect x="987.1" y="480.1" width="351.9" height="330.0"/>
</g>
<circle cx="1240.6" cy="516.0" r="5.6" fill="#000"/><circle cx="1240.6" cy="552.0" r="5.6" fill="#ee1111"/>
<g font-size="30" fill="#000"><text x="1267" y="526.1">0.05</text><text x="1267" y="562.1">0.01</text></g>
<g font-size="30" text-anchor="middle" fill="#000">
<text x="996.0" y="857.4">0</text>
<text x="1082.0" y="857.4">0.2</text>
<text x="1168.0" y="857.4">0.4</text>
<text x="1253.2" y="857.4">0.6</text>
</g>
<g clip-path="url(#cp2)">
<rect x="99.6" y="890.1" width="866.6" height="330.0" fill="#3b99b1"/>
<rect x="99.6" y="890.1" width="866.6" height="330.0" filter="url(#nz)" mask="url(#mk2)"/>
<g filter="url(#b14p2)"><polygon points="80.0,880.0 175.0,890.0 200.0,901.0 210.0,911.0 203.0,925.0 180.0,936.0 160.0,955.0 80.0,955.0" fill="#ebcd2a" fill-opacity="0.45" stroke="#ebcd2a" stroke-width="16" stroke-linejoin="round" stroke-opacity="0.45"/><polygon points="80.0,960.0 157.0,960.0 160.0,986.0 178.0,1008.0 143.0,1019.0 125.0,1036.0 120.0,1049.0 80.0,1049.0" fill="#ebcd2a" fill-opacity="0.85" stroke="#ebcd2a" stroke-width="16" stroke-linejoin="round" stroke-opacity="0.85"/><ellipse cx="215.0" cy="1066.0" rx="80.0" ry="30.0" fill="#ebcd2a" fill-opacity="0.75"/><ellipse cx="250.0" cy="925.0" rx="60.0" ry="22.0" fill="#ebcd2a" fill-opacity="0.3"/><ellipse cx="200.0" cy="975.0" rx="50.0" ry="40.0" fill="#ebcd2a" fill-opacity="0.25"/><ellipse cx="330.0" cy="1030.0" rx="120.0" ry="20.0" fill="#ebcd2a" fill-opacity="0.3"/><ellipse cx="600.0" cy="992.0" rx="200.0" ry="12.0" fill="#ebcd2a" fill-opacity="0.38"/><ellipse cx="600.0" cy="1066.0" rx="130.0" ry="26.0" fill="#ebcd2a" fill-opacity="0.55"/><ellipse cx="800.0" cy="1062.0" rx="110.0" ry="20.0" fill="#ebcd2a" fill-opacity="0.3"/><ellipse cx="930.0" cy="1078.0" rx="50.0" ry="32.0" fill="#ebcd2a" fill-opacity="0.55"/><ellipse cx="470.0" cy="1068.0" rx="70.0" ry="20.0" fill="#ebcd2a" fill-opacity="0.3"/><ellipse cx="890.0" cy="925.0" rx="80.0" ry="48.0" fill="#ebcd2a" fill-opacity="0.3"/><ellipse cx="950.0" cy="915.0" rx="55.0" ry="50.0" fill="#ebcd2a" fill-opacity="0.42"/><ellipse cx="900.0" cy="1000.0" rx="60.0" ry="12.0" fill="#ebcd2a" fill-opacity="0.2"/><ellipse cx="760.0" cy="1100.0" rx="120.0" ry="20.0" fill="#ebcd2a" fill-opacity="0.1"/><ellipse cx="130.0" cy="1150.0" rx="20.0" ry="50.0" fill="#ebcd2a" fill-opacity="0.25"/><ellipse cx="215.0" cy="1100.0" rx="100.0" ry="12.0" fill="#ebcd2a" fill-opacity="0.45"/></g>
<g filter="url(#b8p2)"><ellipse cx="125.0" cy="1000.0" rx="40.0" ry="28.0" fill="#ecbe2c" fill-opacity="0.95"/><ellipse cx="165.0" cy="1000.0" rx="20.0" ry="14.0" fill="#ebcd2a" fill-opacity="0.8"/><polyline points="125.0,1048.0 165.0,1068.0 300.0,1080.0" fill="none" stroke="#ebcd2a" stroke-width="22" stroke-opacity="0.65" stroke-linecap="round" stroke-linejoin="round"/><polyline points="400.0,1072.0 422.0,1066.0 520.0,1067.0" fill="none" stroke="#ebcd2a" stroke-width="18" stroke-opacity="0.65" stroke-linecap="round" stroke-linejoin="round"/><polyline points="520.0,1066.0 580.0,1067.0" fill="none" stroke="#ebcd2a" stroke-width="18" stroke-opacity="0.95" stroke-linecap="round" stroke-linejoin="round"/><ellipse cx="540.0" cy="1066.0" rx="62.0" ry="17.0" fill="#ebcd2a" fill-opacity="0.7"/><polyline points="600.0,1068.0 655.0,1067.0 700.0,1062.0" fill="none" stroke="#ebcd2a" stroke-width="16" stroke-opacity="0.8" stroke-linecap="round" stroke-linejoin="round"/><polyline points="700.0,1061.0 800.0,1059.0 885.0,1062.0" fill="none" stroke="#ebcd2a" stroke-width="15" stroke-opacity="0.5" stroke-linecap="round" stroke-linejoin="round"/><polyline points="885.0,1063.0 920.0,1070.0 966.0,1082.0" fill="none" stroke="#ebcd2a" stroke-width="22" stroke-opacity="1" stroke-linecap="round" stroke-linejoin="round"/><polyline points="948.0,1088.0 962.0,1130.0" fill="none" stroke="#ebcd2a" stroke-width="26" stroke-opacity="1" stroke-linecap="round" stroke-linejoin="round"/><ellipse cx="940.0" cy="1082.0" rx="22.0" ry="16.0" fill="#ebcd2a" fill-opacity="0.8"/><polyline points="560.0,1040.0 600.0,1048.0 640.0,1052.0" fill="none" stroke="#ebcd2a" stroke-width="10" stroke-opacity="0.3" stroke-linecap="round" stroke-linejoin="round"/><polyline points="690.0,1040.0 730.0,1030.0" fill="none" stroke="#ebcd2a" stroke-width="10" stroke-opacity="0.25" stroke-linecap="round" stroke-linejoin="round"/></g>
<g filter="url(#b6p2)"><ellipse cx="169.0" cy="1035.5" rx="24.0" ry="8.0" fill="#3b99b1" fill-opacity="0.9"/><ellipse cx="485.0" cy="1039.0" rx="26.0" ry="10.0" fill="#3b99b1" fill-opacity="0.9"/><ellipse cx="627.0" cy="1042.0" rx="24.0" ry="10.0" fill="#3b99b1" fill-opacity="0.9"/><ellipse cx="560.0" cy="1030.0" rx="30.0" ry="8.0" fill="#3b99b1" fill-opacity="0.5"/><ellipse cx="640.0" cy="1102.0" rx="12.0" ry="10.0" fill="#3b99b1" fill-opacity="0.7"/><ellipse cx="260.0" cy="990.0" rx="45.0" ry="12.0" fill="#3b99b1" fill-opacity="0.5"/></g>
<g filter="url(#b5p2)"><polygon points="164.7,1069.3 173.0,1062.0 186.3,1052.7 201.3,1046.1 222.8,1045.1 227.8,1048.7 232.8,1047.7 236.1,1052.7 241.1,1061.0 241.1,1072.0 199.6,1072.6 189.6,1076.6 174.7,1076.6 168.0,1074.3" fill="#ebcd2a" fill-opacity="1" stroke="#ebcd2a" stroke-width="12" stroke-linejoin="round" stroke-opacity="1"/><ellipse cx="535.0" cy="1066.0" rx="18.0" ry="5.0" fill="#ebcd2a" fill-opacity="1"/></g>
<g filter="url(#b5p2)"><polygon points="168.7,1067.7 176.1,1061.8 188.1,1054.4 201.6,1049.1 221.0,1048.3 225.5,1051.2 230.0,1050.4 232.9,1054.4 237.4,1061.1 237.4,1069.8 200.1,1070.3 191.1,1073.5 177.6,1073.5 171.7,1071.7" fill="#ec9a1a" fill-opacity="1"/><polygon points="968.0,1052.0 928.0,1066.0 950.0,1085.0 968.0,1118.0" fill="#e8820f" fill-opacity="0.95"/><ellipse cx="118.0" cy="1003.0" rx="30.0" ry="12.0" fill="#e8820f" fill-opacity="0.4"/></g>
<g fill="none" stroke="#fff" stroke-width="3.3" stroke-linejoin="round" stroke-linecap="round">
<polyline points="174.7,890.6 182.2,890.6 182.2,893.6 189.6,893.6 189.6,896.6 194.6,896.6 194.6,899.1 199.6,899.1 199.6,901.6 203.7,901.6 203.7,904.9 207.9,904.9 207.9,908.2 207.9,913.2 210.2,913.2 210.2,917.1 207.8,917.1 207.8,921.0 205.4,921.0 205.4,924.8 202.9,924.8 196.3,924.8 196.3,928.2 189.6,928.2 189.6,931.5 184.7,931.5 184.7,934.0 179.7,934.0 179.7,936.5 179.7,939.1 177.0,939.1 177.0,941.8 174.4,941.8 174.4,944.4 171.7,944.4 171.7,947.1 169.0,947.1 169.0,949.7 166.4,949.7 166.4,953.1 163.9,953.1 163.9,956.4 161.4,956.4 161.4,959.7 158.9,959.7 158.9,963.0 156.4,963.0 155.8,976.3 155.8,981.3 157.8,981.3 157.8,986.3 159.7,986.3 159.7,990.2 162.5,990.2 162.5,994.0 165.3,994.0 165.3,997.9 168.0,997.9 168.0,1000.4 170.5,1000.4 170.5,1002.9 173.0,1002.9 173.0,1005.4 175.5,1005.4 175.5,1007.9 178.0,1007.9 169.7,1007.9 169.7,1010.4 161.4,1010.4 161.4,1012.8 152.3,1012.8 152.3,1016.2 143.1,1016.2 143.1,1019.5 139.3,1019.5 139.3,1022.3 135.4,1022.3 135.4,1025.0 131.5,1025.0 131.5,1027.8 131.5,1030.6 129.3,1030.6 129.3,1033.3 127.1,1033.3 127.1,1036.1 124.9,1036.1 124.9,1042.7 122.4,1042.7 122.4,1049.4 119.9,1049.4"/>
<polygon points="164.7,1069.3 167.5,1069.3 167.5,1066.9 170.3,1066.9 170.3,1064.4 173.0,1064.4 173.0,1062.0 177.5,1062.0 177.5,1058.9 181.9,1058.9 181.9,1055.8 186.3,1055.8 186.3,1052.7 193.8,1052.7 193.8,1049.4 201.3,1049.4 201.3,1046.1 222.8,1045.1 227.8,1045.1 227.8,1048.7 232.8,1047.7 232.8,1052.7 236.1,1052.7 236.1,1056.9 238.6,1056.9 238.6,1061.0 241.1,1061.0 241.1,1072.0 199.6,1072.6 189.6,1072.6 189.6,1076.6 174.7,1076.6 168.0,1076.6 168.0,1074.3 168.0,1069.3 164.7,1069.3"/>
<polygon points="519.0,1063.0 523.0,1063.0 523.0,1060.0 530.0,1060.0 530.0,1062.0 545.0,1063.0 546.0,1061.5 548.0,1061.5 548.0,1063.0 548.0,1067.0 551.0,1067.0 551.0,1071.0 554.0,1071.0 548.0,1071.0 548.0,1073.5 537.0,1073.5 534.0,1073.5 534.0,1071.2 531.0,1071.2 531.0,1069.0 521.0,1069.0 521.0,1066.0 521.0,1063.0 519.0,1063.0" fill="#fff"/>
<polyline points="815.6,893.3 830.6,893.3 830.6,896.6 836.4,896.6 836.4,899.6 842.2,899.6 842.2,902.6 852.2,902.6 852.2,905.4 862.1,905.4 862.1,908.2 868.8,908.2 868.8,911.0 875.4,911.0 875.4,913.8 882.0,913.8 882.0,916.5 886.0,916.5 886.0,919.2 890.0,919.2 890.0,921.8 894.0,921.8 894.0,924.5 898.0,924.5 898.0,927.2 902.0,927.2 902.0,929.8 911.9,929.8 911.9,933.1 921.9,933.1 921.9,936.5 926.9,936.5 926.9,939.0 931.9,939.0 931.9,941.4 936.8,941.4 936.8,943.9 941.8,943.9 941.8,946.4 946.3,946.4 946.3,949.2 950.7,949.2 950.7,952.0 955.1,952.0 955.1,954.7 955.1,958.0 957.1,958.0 957.1,961.4 959.1,961.4 958.4,992.9 958.4,995.9 960.9,995.9 960.9,998.9 963.4,998.9 968.4,1000.2"/>
<polyline points="968.4,1045.1 960.6,1045.1 960.6,1047.6 952.9,1047.6 952.9,1050.2 945.1,1050.2 945.1,1052.7 936.8,1052.7 936.8,1056.0 928.5,1056.0 928.5,1059.3 921.9,1059.3 921.9,1061.9 915.3,1061.9 915.3,1064.4 908.6,1064.4 908.6,1067.0 913.0,1067.0 913.0,1069.4 917.5,1069.4 917.5,1071.9 921.9,1071.9 921.9,1074.3 926.3,1074.3 926.3,1077.1 930.8,1077.1 930.8,1079.8 935.2,1079.8 935.2,1082.6 937.7,1082.6 937.7,1085.1 940.2,1085.1 940.2,1087.6 942.7,1087.6 942.7,1090.1 945.1,1090.1 945.1,1092.6 945.1,1097.0 947.9,1097.0 947.9,1101.4 950.7,1101.4 950.7,1105.8 953.4,1105.8 953.4,1112.5 956.2,1112.5 956.2,1119.1 959.0,1119.1 959.0,1125.8 961.8,1125.8"/>
</g>
<g fill="none" stroke="#000" stroke-width="3.9" stroke-linejoin="round" stroke-linecap="round">
<polyline points="114.9,1043.7 118.8,1043.7 118.8,1046.4 122.7,1046.4 122.7,1049.0 126.5,1049.0 126.5,1051.7 132.6,1051.7 132.6,1054.5 138.7,1054.5 138.7,1057.2 144.8,1057.2 144.8,1060.0 151.4,1060.0 151.4,1062.9 158.1,1062.9 158.1,1065.8 164.7,1065.8 164.7,1068.6 179.7,1068.6 189.6,1068.6 189.6,1066.0 199.6,1066.0 199.6,1062.7 241.1,1062.7 248.3,1062.7 248.3,1065.1 255.5,1065.1 255.5,1067.5 262.7,1067.5 262.7,1070.0 272.7,1070.0 272.7,1073.0 282.6,1073.0 282.6,1075.9 299.9,1075.9 299.9,1079.9"/>
<polyline points="100.0,1002.2 134.8,1002.2 134.8,1005.5 168.0,1005.5 177.2,1005.5 177.2,1007.9 186.3,1007.9 186.3,1010.2 197.1,1010.2 197.1,1013.2 207.9,1013.2 207.9,1016.2"/>
<polyline points="149.8,928.8 159.7,928.8 159.7,926.4 169.7,926.4 169.7,923.9 179.7,923.9 179.7,921.5 196.3,921.5 196.3,919.2 226.2,918.2 229.5,918.2 229.5,915.5 248.8,915.5"/>
<polyline points="168.7,964.7 168.7,961.4 171.4,961.4 186.3,961.4"/>
<polyline points="259.4,1013.8 263.2,1013.8 263.2,1011.2 267.0,1011.2 267.0,1008.5"/>
<polyline points="399.5,1074.3 405.0,1074.3 405.0,1071.8 410.5,1071.8 410.5,1069.3 422.1,1069.3 422.1,1065.3 457.0,1065.3 457.0,1068.6 458.6,1068.6 530.1,1068.6 530.1,1066.0 531.7,1066.0 540.0,1066.0 530.0,1066.0 576.5,1066.0 577.2,1068.6 657.9,1068.6 658.9,1066.0 676.1,1066.0 677.1,1062.7 702.7,1062.7 703.7,1060.3 764.1,1060.3 765.1,1057.7 782.4,1057.7 783.4,1060.3 838.2,1060.3 838.9,1062.7 885.4,1062.7 895.3,1062.7 895.3,1066.6 908.6,1066.6 908.6,1070.0 918.6,1070.0 918.6,1072.1 928.5,1072.1 928.5,1074.3 943.5,1074.3 943.5,1077.6 951.8,1077.6 951.8,1080.4 960.1,1080.4 960.1,1083.1 968.4,1083.1 968.4,1085.9"/>
<polyline points="437.1,983.6 447.0,983.6 447.0,986.3 465.3,986.3 465.3,989.6 471.9,989.6 471.9,992.3 478.6,992.3 478.6,994.9 540.0,994.9 530.0,994.9 641.3,994.9 641.3,997.6 642.9,997.6 649.6,997.6 649.6,994.9 651.2,994.9 676.1,994.9 676.8,992.3 692.7,992.3 693.4,989.6 711.0,989.6 712.0,986.3 735.9,986.3 736.6,983.6 780.7,983.6"/>
<polyline points="895.3,986.3 968.4,986.3"/>
<polyline points="302.6,1167.3 309.2,1167.3 309.2,1164.0 312.0,1164.0 312.0,1161.1 314.8,1161.1 314.8,1158.3"/>
<polyline points="100.0,1183.9 100.0,1180.6 103.3,1180.6 103.3,1177.2 106.6,1177.2 111.6,1177.2 111.6,1174.9"/>
<polyline points="153.1,1218.1 179.0,1218.1"/>
<polyline points="237.8,1204.8 237.8,1208.8 241.1,1208.8 241.1,1215.4 243.4,1215.4 243.4,1218.1 246.1,1218.1 252.7,1218.1"/>
<polyline points="613.0,1116.8 613.0,1120.1 615.9,1120.1 615.9,1123.4 618.7,1123.4"/>
<polyline points="900.3,1185.5 905.3,1185.5 905.3,1188.9 915.3,1188.9 915.3,1191.2 925.2,1192.2 927.7,1192.2 927.7,1194.7 930.2,1194.7 930.2,1197.2"/>
<polyline points="948.5,1218.1 968.4,1218.1"/>
<polyline points="792.4,891.0 862.1,891.0"/>
</g>
<g fill="#000">
<circle cx="149.8" cy="1208.1" r="1.8"/>
<circle cx="111.6" cy="1174.9" r="1.8"/>
</g>
<path d="M99.6,890.1 L202.6,890.1 L195.7,898.4 L189.3,906.6 L183.3,914.9 L177.7,923.1 L172.5,931.4 L167.6,939.6 L163.0,947.9 L158.8,956.1 L154.8,964.4 L151.1,972.6 L147.7,980.9 L144.5,989.1 L141.4,997.4 L138.6,1005.6 L136.0,1013.9 L133.6,1022.1 L131.3,1030.3 L129.2,1038.6 L127.2,1046.8 L125.4,1055.1 L123.6,1063.3 L122.0,1071.6 L120.5,1079.8 L119.1,1088.1 L117.8,1096.3 L116.6,1104.6 L115.5,1112.8 L114.4,1121.1 L113.4,1129.3 L112.5,1137.6 L111.6,1145.8 L110.8,1154.1 L110.1,1162.3 L109.4,1170.6 L108.7,1178.8 L108.1,1187.1 L107.5,1195.3 L107.0,1203.6 L106.5,1211.8 L106.0,1220.1 L99.6,1220.1 Z M966.2,890.1 L863.2,890.1 L870.1,898.4 L876.5,906.6 L882.6,914.9 L888.2,923.1 L893.4,931.4 L898.3,939.6 L902.8,947.9 L907.1,956.1 L911.0,964.4 L914.7,972.6 L918.2,980.9 L921.4,989.1 L924.4,997.4 L927.2,1005.6 L929.8,1013.9 L932.3,1022.1 L934.5,1030.3 L936.7,1038.6 L938.6,1046.8 L940.5,1055.1 L942.2,1063.3 L943.8,1071.6 L945.3,1079.8 L946.7,1088.1 L948.0,1096.3 L949.3,1104.6 L950.4,1112.8 L951.5,1121.1 L952.4,1129.3 L953.4,1137.6 L954.2,1145.8 L955.0,1154.1 L955.8,1162.3 L956.5,1170.6 L957.1,1178.8 L957.8,1187.1 L958.3,1195.3 L958.9,1203.6 L959.3,1211.8 L959.8,1220.1 L966.2,1220.1 Z" fill="#fff" fill-opacity="0.52"/>
</g>
<g stroke="#000" stroke-width="2" fill="none">
<path d="M99.6,891.1h18M966.2,891.1h-18"/>
<path d="M99.6,973.1h18M966.2,973.1h-18"/>
<path d="M99.6,1055.1h18M966.2,1055.1h-18"/>
<path d="M99.6,1137.1h18M966.2,1137.1h-18"/>
<path d="M99.6,1219.1h18M966.2,1219.1h-18"/>
<path d="M174.0,1220.1v-18"/>
<path d="M314.5,1220.1v-18"/>
<path d="M459.7,1220.1v-18"/>
<path d="M605.0,1220.1v-18"/>
<path d="M750.2,1220.1v-18"/>
<path d="M895.5,1220.1v-18"/>
<rect x="99.6" y="890.1" width="866.6" height="330.0"/>
</g>
<g font-size="30" text-anchor="end" fill="#000">
<text x="80.5" y="901.6">64</text>
<text x="80.5" y="983.6">32</text>
<text x="80.5" y="1065.6">16</text>
<text x="80.5" y="1147.6">8</text>
<text x="80.5" y="1229.6">4</text>
</g>
<text x="48.3" y="866.9" font-size="34.5" font-weight="bold" fill="#000">C</text>
<g stroke="#000" fill="none">
<path d="M1066.0,890.0C1067.0,892.7 1067.6,892.0 1069.0,898.0C1070.4,904.0 1071.3,900.7 1070.3,908.0C1069.3,915.3 1071.1,912.0 1066.0,920.0C1060.9,928.0 1062.7,924.7 1055.0,932.0C1047.3,939.3 1048.2,936.0 1043.0,942.0C1037.8,948.0 1039.5,944.7 1039.5,950.0C1039.5,955.3 1036.5,952.3 1043.0,958.0C1049.5,963.7 1043.3,961.0 1059.0,967.0C1074.7,973.0 1068.0,969.7 1090.0,976.0C1112.0,982.3 1107.7,980.8 1125.0,986.0C1142.3,991.2 1135.3,988.2 1142.0,991.5C1148.7,994.8 1145.7,992.8 1145.0,996.0C1144.3,999.2 1150.0,996.2 1140.0,1001.0C1130.0,1005.8 1133.3,1003.8 1115.0,1010.5C1096.7,1017.2 1099.7,1015.7 1085.0,1021.0C1070.3,1026.3 1077.0,1023.2 1071.0,1026.5C1065.0,1029.8 1066.0,1028.2 1067.0,1031.0C1068.0,1033.8 1062.7,1031.9 1074.0,1035.0C1085.3,1038.1 1075.7,1036.9 1101.0,1040.4C1126.3,1043.9 1117.0,1042.3 1150.0,1045.5C1183.0,1048.7 1163.0,1046.7 1200.0,1050.0C1237.0,1053.3 1231.7,1052.8 1261.0,1055.3C1290.3,1057.8 1271.0,1055.6 1288.0,1057.5C1305.0,1059.4 1300.0,1059.0 1312.0,1061.0C1324.0,1063.0 1319.0,1062.0 1324.0,1063.5C1329.0,1065.0 1327.7,1063.9 1327.0,1065.6C1326.3,1067.3 1333.2,1065.7 1322.0,1068.5C1310.8,1071.3 1320.6,1070.2 1293.3,1074.0C1266.0,1077.8 1274.4,1076.3 1240.0,1080.0C1205.6,1083.7 1222.3,1081.7 1190.0,1085.0C1157.7,1088.3 1173.0,1086.0 1143.0,1090.0C1113.0,1094.0 1128.0,1091.3 1100.0,1097.0C1072.0,1102.7 1080.7,1100.7 1059.0,1107.0C1037.3,1113.3 1049.0,1109.4 1035.0,1116.0C1021.0,1122.6 1027.0,1119.5 1017.0,1126.8C1007.0,1134.1 1010.7,1130.6 1005.0,1138.0C999.3,1145.4 1001.3,1141.3 1000.0,1149.0C998.7,1156.7 999.5,1152.5 1001.0,1161.0C1002.5,1169.5 1002.4,1166.1 1004.4,1174.4C1006.4,1182.7 1005.6,1178.5 1007.0,1186.0C1008.4,1193.5 1007.7,1189.7 1008.7,1197.0C1009.7,1204.3 1009.4,1200.3 1010.0,1208.0C1010.6,1215.7 1010.4,1216.0 1010.6,1220.0" stroke-width="1.6" stroke-linejoin="round"/>
</g>
<g fill="#000"><circle cx="1261.0" cy="1055.3" r="5.6"/><circle cx="1288.0" cy="1057.5" r="5.6"/><circle cx="1293.3" cy="1074.0" r="5.6"/></g>
<g fill="#ee1111"><circle cx="1308.7" cy="1060.3" r="5.6"/><circle cx="1321.3" cy="1062.8" r="5.6"/><circle cx="1326.0" cy="1065.4" r="5.6"/><circle cx="1322.0" cy="1068.4" r="5.6"/><circle cx="1310.7" cy="1071.5" r="5.6"/></g>
<rect x="1213.5" y="890.1" width="125.5" height="107" fill="#fff" stroke="#000" stroke-width="1.5"/>
<g stroke="#000" stroke-width="1.9" fill="none">
<path d="M987.1,973.1h17M1339.0,973.1h-18"/>
<path d="M987.1,1055.1h17M1339.0,1055.1h-18"/>
<path d="M987.1,1137.1h17M1339.0,1137.1h-18"/>
<path d="M1056.3,1220.1v-19"/>
<path d="M1148.9,1220.1v-19"/>
<path d="M1240.8,1220.1v-19"/>
<path d="M1332.5,1220.1v-19"/>
<rect x="987.1" y="890.1" width="351.9" height="330.0"/>
</g>
<circle cx="1240.6" cy="926.0" r="5.6" fill="#000"/><circle cx="1240.6" cy="962.0" r="5.6" fill="#ee1111"/>
<g font-size="30" fill="#000"><text x="1267" y="936.1">0.05</text><text x="1267" y="972.1">0.01</text></g>
<g font-size="30" text-anchor="middle" fill="#000">
<text x="1056.3" y="1267.4">0.05</text>
<text x="1148.9" y="1267.4">0.1</text>
<text x="1240.8" y="1267.4">0.15</text>
<text x="1332.5" y="1267.4">0.2</text>
</g>
<g clip-path="url(#cp3)">
<rect x="99.6" y="1300.1" width="866.6" height="330.0" fill="#3b99b1"/>
<rect x="99.6" y="1300.1" width="866.6" height="330.0" filter="url(#nz)" mask="url(#mk3)"/>
<g filter="url(#b14p3)"><polygon points="80.0,1290.0 520.0,1290.0 590.0,1380.0 540.0,1462.0 80.0,1462.0" fill="#ebcd2a" fill-opacity="0.4"/><ellipse cx="640.0" cy="1400.0" rx="90.0" ry="14.0" fill="#ebcd2a" fill-opacity="0.3"/><ellipse cx="620.0" cy="1340.0" rx="80.0" ry="14.0" fill="#ebcd2a" fill-opacity="0.15"/><polygon points="98.3,1328.2 126.5,1323.2 156.4,1316.6 186.3,1312.6 212.9,1309.3 249.4,1306.6 285.9,1303.3 392.2,1303.3 408.8,1305.9 435.4,1308.3 455.3,1312.6 468.6,1314.9 465.3,1318.2 455.3,1319.9 422.1,1323.2 382.3,1323.2 352.4,1328.2 322.5,1334.8 312.5,1343.1 305.9,1351.4 282.6,1356.4 262.7,1361.4 229.5,1370.7 206.2,1373.7 183.0,1377.0 159.7,1383.0 143.1,1389.6 136.5,1396.9 136.5,1402.9 143.1,1417.9 133.2,1420.2 116.6,1422.8 98.3,1427.8" fill="#ebcd2a" fill-opacity="0.3" stroke="#ebcd2a" stroke-width="10" stroke-linejoin="round" stroke-opacity="0.3"/><polyline points="156.4,1355.8 229.5,1344.8 276.0,1334.8 322.5,1322.2" fill="none" stroke="#ebcd2a" stroke-width="30" stroke-opacity="0.55" stroke-linecap="round" stroke-linejoin="round"/><ellipse cx="120.0" cy="1440.0" rx="40.0" ry="25.0" fill="#ebcd2a" fill-opacity="0.4"/><ellipse cx="560.0" cy="1392.0" rx="120.0" ry="11.0" fill="#ebcd2a" fill-opacity="0.2"/><ellipse cx="790.0" cy="1402.0" rx="150.0" ry="13.0" fill="#ebcd2a" fill-opacity="0.33"/><ellipse cx="800.0" cy="1335.0" rx="120.0" ry="14.0" fill="#ebcd2a" fill-opacity="0.14"/><ellipse cx="800.0" cy="1476.0" rx="170.0" ry="30.0" fill="#ebcd2a" fill-opacity="0.5"/><ellipse cx="740.0" cy="1446.0" rx="200.0" ry="12.0" fill="#ebcd2a" fill-opacity="0.3"/></g>
<g filter="url(#b8p3)"><polyline points="120.0,1474.0 180.0,1478.0 966.0,1476.0" fill="none" stroke="#ebcd2a" stroke-width="24" stroke-opacity="0.8" stroke-linecap="round" stroke-linejoin="round"/><polyline points="105.0,1466.0 130.0,1475.0 185.0,1478.0" fill="none" stroke="#ebcd2a" stroke-width="26" stroke-opacity="0.8" stroke-linecap="round" stroke-linejoin="round"/><ellipse cx="222.0" cy="1525.0" rx="14.0" ry="30.0" fill="#ebcd2a" fill-opacity="0.45"/><ellipse cx="450.0" cy="1540.0" rx="22.0" ry="45.0" fill="#ebcd2a" fill-opacity="0.4"/><ellipse cx="655.0" cy="1515.0" rx="18.0" ry="25.0" fill="#ebcd2a" fill-opacity="0.4"/><ellipse cx="560.0" cy="1525.0" rx="25.0" ry="25.0" fill="#ebcd2a" fill-opacity="0.3"/></g>
<g filter="url(#b7p3)"><ellipse cx="207.0" cy="1397.0" rx="42.0" ry="13.0" fill="#3b99b1" fill-opacity="1"/><ellipse cx="340.0" cy="1379.0" rx="60.0" ry="15.0" fill="#3b99b1" fill-opacity="1"/><ellipse cx="425.0" cy="1346.0" rx="65.0" ry="14.0" fill="#3b99b1" fill-opacity="0.95"/><ellipse cx="260.0" cy="1437.0" rx="36.0" ry="11.0" fill="#3b99b1" fill-opacity="1"/><ellipse cx="349.0" cy="1445.5" rx="30.0" ry="10.0" fill="#3b99b1" fill-opacity="1"/><ellipse cx="425.0" cy="1437.0" rx="30.0" ry="10.0" fill="#3b99b1" fill-opacity="0.9"/><ellipse cx="158.5" cy="1449.0" rx="24.0" ry="11.0" fill="#3b99b1" fill-opacity="1"/><ellipse cx="490.0" cy="1414.0" rx="40.0" ry="12.0" fill="#3b99b1" fill-opacity="1"/><ellipse cx="570.0" cy="1362.0" rx="80.0" ry="16.0" fill="#3b99b1" fill-opacity="0.8"/><ellipse cx="640.0" cy="1330.0" rx="70.0" ry="14.0" fill="#3b99b1" fill-opacity="0.6"/><ellipse cx="555.0" cy="1448.0" rx="18.0" ry="7.0" fill="#3b99b1" fill-opacity="0.8"/><ellipse cx="660.0" cy="1438.0" rx="50.0" ry="10.0" fill="#3b99b1" fill-opacity="0.85"/><ellipse cx="820.0" cy="1441.0" rx="50.0" ry="10.0" fill="#3b99b1" fill-opacity="0.8"/><ellipse cx="330.0" cy="1508.0" rx="12.0" ry="10.0" fill="#3b99b1" fill-opacity="0.7"/><ellipse cx="600.0" cy="1425.0" rx="45.0" ry="9.0" fill="#3b99b1" fill-opacity="0.6"/><ellipse cx="520.0" cy="1318.0" rx="60.0" ry="10.0" fill="#3b99b1" fill-opacity="0.5"/></g>
<g filter="url(#b5p3)"><polygon points="173.0,1474.3 186.3,1469.3 199.6,1462.0 212.9,1457.1 236.1,1457.1 252.7,1461.0 276.0,1462.7 281.0,1459.4 285.9,1462.0 289.3,1459.4 302.6,1462.0 315.8,1466.0 319.2,1471.0 302.6,1472.7 276.0,1476.0 262.7,1479.3 246.1,1484.3 229.5,1488.6 212.9,1491.9 202.9,1487.6 189.6,1481.0" fill="#ebcd2a" fill-opacity="1" stroke="#ebcd2a" stroke-width="12" stroke-linejoin="round" stroke-opacity="1"/><polygon points="359.0,1473.7 372.3,1466.0 388.9,1459.4 422.1,1457.7 442.0,1454.4 458.6,1450.4 485.2,1447.8 505.1,1451.1 521.8,1457.7 540.0,1462.7 543.3,1462.7 563.2,1464.4 571.5,1461.0 579.8,1459.4 616.4,1459.4 629.6,1462.0 639.6,1460.0 644.6,1462.7 676.1,1462.7 679.5,1461.0 692.7,1464.4 716.0,1466.0 725.9,1464.4 735.9,1461.7 762.5,1461.7 775.8,1465.0 789.1,1466.0 802.3,1468.3 812.3,1466.0 822.3,1464.4 842.2,1465.0 862.1,1463.4 895.3,1463.4 905.3,1462.0 921.9,1462.7 928.5,1466.0 935.2,1471.0 928.5,1480.3 911.9,1482.0 895.3,1480.0 878.7,1481.0 845.5,1480.3 812.3,1481.0 805.7,1479.3 795.7,1474.3 769.1,1475.0 742.6,1474.3 716.0,1474.3 702.7,1477.6 689.4,1481.0 682.8,1487.6 672.8,1494.3 662.8,1493.3 652.9,1494.3 639.6,1487.6 629.6,1485.9 616.4,1484.3 596.4,1485.9 583.1,1492.6 566.5,1499.2 543.3,1499.2 530.0,1495.9 521.8,1490.9 505.1,1485.9 488.5,1486.6 471.9,1492.6 455.3,1497.6 435.4,1499.2 418.8,1493.3 398.9,1489.3 378.9,1482.6 365.7,1477.6" fill="#ebcd2a" fill-opacity="1" stroke="#ebcd2a" stroke-width="12" stroke-linejoin="round" stroke-opacity="1"/></g>
<g filter="url(#b4p3)"><polygon points="180.7,1473.6 192.7,1469.6 204.7,1463.8 216.6,1459.8 237.5,1459.8 252.5,1463.0 273.4,1464.3 277.9,1461.6 282.4,1463.8 285.4,1461.6 297.3,1463.8 309.3,1467.0 312.3,1470.9 297.3,1472.3 273.4,1474.9 261.4,1477.6 246.5,1481.6 231.6,1485.0 216.6,1487.7 207.6,1484.2 195.7,1478.9" fill="#e8820f" fill-opacity="1"/><polygon points="359.0,1473.9 372.3,1467.4 388.9,1461.7 422.1,1460.3 442.0,1457.5 458.6,1454.1 485.2,1451.8 505.1,1454.7 521.8,1460.3 540.0,1464.5 543.3,1464.5 563.2,1466.0 571.5,1463.1 579.8,1461.7 616.4,1461.7 629.6,1464.0 639.6,1462.3 644.6,1464.5 676.1,1464.5 679.5,1463.1 692.7,1466.0 716.0,1467.4 725.9,1466.0 735.9,1463.7 762.5,1463.7 775.8,1466.5 789.1,1467.4 802.3,1469.3 812.3,1467.4 822.3,1466.0 842.2,1466.5 862.1,1465.1 895.3,1465.1 905.3,1464.0 921.9,1464.5 928.5,1467.4 935.2,1471.6 928.5,1479.5 911.9,1480.9 895.3,1479.2 878.7,1480.1 845.5,1479.5 812.3,1480.1 805.7,1478.7 795.7,1474.4 769.1,1475.0 742.6,1474.4 716.0,1474.4 702.7,1477.2 689.4,1480.1 682.8,1485.7 672.8,1491.4 662.8,1490.5 652.9,1491.4 639.6,1485.7 629.6,1484.3 616.4,1482.9 596.4,1484.3 583.1,1490.0 566.5,1495.6 543.3,1495.6 530.0,1492.8 521.8,1488.5 505.1,1484.3 488.5,1484.9 471.9,1490.0 455.3,1494.2 435.4,1495.6 418.8,1490.5 398.9,1487.1 378.9,1481.5 365.7,1477.2" fill="#e8820f" fill-opacity="0.95"/><polyline points="700.0,1473.0 930.0,1473.0" fill="none" stroke="#ebcd2a" stroke-width="12" stroke-opacity="0.8" stroke-linecap="round" stroke-linejoin="round"/></g>
<g filter="url(#b5p3)"><ellipse cx="225.0" cy="1474.0" rx="30.0" ry="8.0" fill="#e8820f" fill-opacity="0.7"/><ellipse cx="480.0" cy="1474.0" rx="65.0" ry="13.0" fill="#f21f0e" fill-opacity="0.95"/><ellipse cx="560.0" cy="1482.0" rx="30.0" ry="9.0" fill="#f21f0e" fill-opacity="0.75"/><ellipse cx="640.0" cy="1482.0" rx="30.0" ry="6.0" fill="#f21f0e" fill-opacity="0.45"/><ellipse cx="420.0" cy="1480.0" rx="30.0" ry="8.0" fill="#f21f0e" fill-opacity="0.5"/></g>
<g fill="none" stroke="#fff" stroke-width="3.3" stroke-linejoin="round" stroke-linecap="round">
<polygon points="98.3,1328.2 112.4,1328.2 112.4,1325.7 126.5,1325.7 126.5,1323.2 141.5,1323.2 141.5,1319.9 156.4,1319.9 156.4,1316.6 186.3,1316.6 186.3,1312.6 212.9,1312.6 212.9,1309.3 249.4,1309.3 249.4,1306.6 285.9,1306.6 285.9,1303.3 392.2,1303.3 408.8,1303.3 408.8,1305.9 435.4,1305.9 435.4,1308.3 445.4,1308.3 445.4,1310.4 455.3,1310.4 455.3,1312.6 468.6,1312.6 468.6,1314.9 468.6,1318.2 465.3,1318.2 455.3,1318.2 455.3,1319.9 422.1,1319.9 422.1,1323.2 382.3,1323.2 367.3,1323.2 367.3,1325.7 352.4,1325.7 352.4,1328.2 337.4,1328.2 337.4,1331.5 322.5,1331.5 322.5,1334.8 319.2,1334.8 319.2,1337.6 315.8,1337.6 315.8,1340.4 312.5,1340.4 312.5,1343.1 312.5,1345.9 310.3,1345.9 310.3,1348.7 308.1,1348.7 308.1,1351.4 305.9,1351.4 294.3,1351.4 294.3,1353.9 282.6,1353.9 282.6,1356.4 272.7,1356.4 272.7,1358.9 262.7,1358.9 262.7,1361.4 251.6,1361.4 251.6,1364.5 240.6,1364.5 240.6,1367.6 229.5,1367.6 229.5,1370.7 206.2,1370.7 206.2,1373.7 183.0,1373.7 183.0,1377.0 171.4,1377.0 171.4,1380.0 159.7,1380.0 159.7,1383.0 151.4,1383.0 151.4,1386.3 143.1,1386.3 143.1,1389.6 143.1,1392.1 140.9,1392.1 140.9,1394.5 138.7,1394.5 138.7,1396.9 136.5,1396.9 136.5,1402.9 136.5,1407.9 138.7,1407.9 138.7,1412.9 140.9,1412.9 140.9,1417.9 143.1,1417.9 133.2,1417.9 133.2,1420.2 116.6,1420.2 116.6,1422.8 107.4,1422.8 107.4,1425.3 98.3,1425.3 98.3,1427.8 98.3,1328.2"/>
<polygon points="173.0,1474.3 179.7,1474.3 179.7,1471.8 186.3,1471.8 186.3,1469.3 190.7,1469.3 190.7,1466.9 195.2,1466.9 195.2,1464.5 199.6,1464.5 199.6,1462.0 206.2,1462.0 206.2,1459.5 212.9,1459.5 212.9,1457.1 236.1,1457.1 252.7,1457.1 252.7,1461.0 276.0,1461.0 276.0,1462.7 281.0,1462.7 281.0,1459.4 285.9,1459.4 285.9,1462.0 289.3,1462.0 289.3,1459.4 302.6,1459.4 302.6,1462.0 315.8,1462.0 315.8,1466.0 315.8,1471.0 319.2,1471.0 302.6,1471.0 302.6,1472.7 276.0,1472.7 276.0,1476.0 262.7,1476.0 262.7,1479.3 254.4,1479.3 254.4,1481.8 246.1,1481.8 246.1,1484.3 237.8,1484.3 237.8,1486.4 229.5,1486.4 229.5,1488.6 212.9,1488.6 212.9,1491.9 207.9,1491.9 207.9,1489.8 202.9,1489.8 202.9,1487.6 196.3,1487.6 196.3,1484.3 189.6,1484.3 189.6,1481.0 181.3,1481.0 181.3,1477.6 173.0,1477.6 173.0,1474.3"/>
<polygon points="359.0,1473.7 363.4,1473.7 363.4,1471.1 367.9,1471.1 367.9,1468.6 372.3,1468.6 372.3,1466.0 380.6,1466.0 380.6,1462.7 388.9,1462.7 388.9,1459.4 422.1,1459.4 422.1,1457.7 442.0,1457.7 442.0,1454.4 458.6,1454.4 458.6,1450.4 485.2,1450.4 485.2,1447.8 505.1,1447.8 505.1,1451.1 513.4,1451.1 513.4,1454.4 521.8,1454.4 521.8,1457.7 530.9,1457.7 530.9,1460.2 540.0,1460.2 540.0,1462.7 543.3,1462.7 563.2,1462.7 563.2,1464.4 571.5,1464.4 571.5,1461.0 579.8,1461.0 579.8,1459.4 616.4,1459.4 629.6,1459.4 629.6,1462.0 639.6,1462.0 639.6,1460.0 644.6,1460.0 644.6,1462.7 676.1,1462.7 679.5,1462.7 679.5,1461.0 692.7,1461.0 692.7,1464.4 716.0,1464.4 716.0,1466.0 725.9,1466.0 725.9,1464.4 735.9,1464.4 735.9,1461.7 762.5,1461.7 775.8,1461.7 775.8,1465.0 789.1,1466.0 802.3,1466.0 802.3,1468.3 812.3,1468.3 812.3,1466.0 822.3,1466.0 822.3,1464.4 842.2,1465.0 862.1,1465.0 862.1,1463.4 895.3,1463.4 905.3,1462.0 921.9,1462.7 928.5,1462.7 928.5,1466.0 931.9,1466.0 931.9,1468.5 935.2,1468.5 935.2,1471.0 935.2,1474.1 933.0,1474.1 933.0,1477.2 930.8,1477.2 930.8,1480.3 928.5,1480.3 911.9,1480.3 911.9,1482.0 895.3,1482.0 895.3,1480.0 878.7,1481.0 845.5,1480.3 812.3,1481.0 805.7,1481.0 805.7,1479.3 800.7,1479.3 800.7,1476.8 795.7,1476.8 795.7,1474.3 769.1,1475.0 742.6,1474.3 716.0,1474.3 702.7,1474.3 702.7,1477.6 689.4,1477.6 689.4,1481.0 686.1,1481.0 686.1,1484.3 682.8,1484.3 682.8,1487.6 677.8,1487.6 677.8,1490.9 672.8,1490.9 672.8,1494.3 662.8,1493.3 652.9,1494.3 646.2,1494.3 646.2,1490.9 639.6,1490.9 639.6,1487.6 629.6,1487.6 629.6,1485.9 616.4,1485.9 616.4,1484.3 596.4,1484.3 596.4,1485.9 589.8,1485.9 589.8,1489.3 583.1,1489.3 583.1,1492.6 574.8,1492.6 574.8,1495.9 566.5,1495.9 566.5,1499.2 543.3,1499.2 530.0,1499.2 530.0,1495.9 525.9,1495.9 525.9,1493.4 521.8,1493.4 521.8,1490.9 513.4,1490.9 513.4,1488.4 505.1,1488.4 505.1,1485.9 488.5,1486.6 480.2,1486.6 480.2,1489.6 471.9,1489.6 471.9,1492.6 463.6,1492.6 463.6,1495.1 455.3,1495.1 455.3,1497.6 435.4,1497.6 435.4,1499.2 427.1,1499.2 427.1,1496.2 418.8,1496.2 418.8,1493.3 398.9,1493.3 398.9,1489.3 388.9,1489.3 388.9,1485.9 378.9,1485.9 378.9,1482.6 372.3,1482.6 372.3,1480.1 365.7,1480.1 365.7,1477.6 359.0,1477.6 359.0,1473.7"/>
<polygon points="925.2,1302.6 938.5,1301.6 958.4,1301.6 958.4,1303.9 961.8,1303.9 961.8,1306.1 965.1,1306.1 965.1,1308.3 968.4,1309.3 968.4,1303.3 925.2,1302.6" fill="#fff"/>
<polygon points="949.1,1369.0 961.8,1368.0 968.4,1368.0 968.4,1369.7 968.4,1373.0 951.8,1371.7 949.1,1371.7 949.1,1369.0" fill="#fff"/>
<polygon points="99.0,1454.0 99.0,1458.0 101.5,1458.0 101.5,1462.0 104.0,1462.0 104.0,1465.0 101.5,1465.0 101.5,1468.0 99.0,1468.0 99.0,1454.0" fill="#fff"/>
</g>
<g fill="none" stroke="#000" stroke-width="3.9" stroke-linejoin="round" stroke-linecap="round">
<polyline points="100.0,1361.4 129.9,1361.4 129.9,1358.1 168.0,1358.1 168.0,1354.8 186.3,1354.8 186.3,1351.4 206.2,1351.4 206.2,1348.1 229.5,1348.1 229.5,1344.8 249.4,1344.8 249.4,1341.5 262.7,1341.5 262.7,1338.2 276.0,1338.2 276.0,1334.8 282.6,1334.8 282.6,1332.3 289.3,1332.3 289.3,1329.9 302.6,1329.9 302.6,1326.5 312.5,1326.5 312.5,1324.4 322.5,1324.4 322.5,1322.2 349.1,1322.2 349.1,1319.9 372.3,1319.9 372.3,1317.2 415.5,1317.2 415.5,1314.9 445.4,1314.2"/>
<polyline points="100.0,1417.9 139.8,1417.9 139.8,1421.2 166.4,1421.2 183.0,1421.2 183.0,1424.5 193.6,1424.5 193.6,1426.2"/>
<polyline points="278.6,1410.2 305.9,1410.2 309.2,1410.2 309.2,1412.9 357.4,1412.9 357.4,1410.2 359.0,1410.2 387.2,1410.2 387.2,1407.9 388.9,1407.9 405.5,1407.9 405.5,1405.6 413.8,1405.6 413.8,1403.4 422.1,1403.4 422.1,1401.3 428.8,1401.3 428.8,1399.1 435.4,1399.1 435.4,1396.9 445.4,1396.9 445.4,1393.0 455.3,1393.0 455.3,1390.6 465.3,1390.6 465.3,1388.3 525.1,1388.3 525.7,1390.3 540.0,1390.3 530.0,1390.3 543.3,1390.3 543.3,1393.6 553.2,1393.6 553.2,1396.3 566.5,1396.3 566.5,1399.6 573.2,1399.6 573.2,1402.1 579.8,1402.1 579.8,1404.6 613.0,1404.6 613.7,1402.3 664.5,1402.3 665.5,1398.6 679.5,1398.6 679.5,1402.3 682.8,1402.3 687.8,1402.3"/>
<polyline points="100.0,1469.3 111.6,1469.3 111.6,1472.2 123.2,1472.2 123.2,1475.0 136.5,1475.0 136.5,1478.3 188.0,1478.3 188.6,1476.0 222.8,1476.0 223.5,1473.3 254.4,1473.3 255.1,1471.0 322.5,1471.0 323.5,1473.3 354.0,1473.3 355.0,1476.0 413.8,1476.0 414.8,1478.3 442.0,1478.3 443.0,1476.0 455.3,1476.0 465.3,1476.0 465.3,1473.3 485.2,1473.3 485.2,1471.0 486.9,1471.0 490.2,1471.0 490.2,1469.3 493.5,1469.3 493.5,1471.0 501.8,1471.0 501.8,1473.3 518.4,1473.3 519.1,1476.0 531.7,1476.0 532.4,1478.3 540.0,1478.3 530.0,1478.3 541.6,1478.3 542.3,1481.0 573.2,1481.0 574.2,1477.6 586.5,1477.6 587.5,1475.0 604.7,1475.0 605.7,1472.7 626.3,1472.7 627.3,1475.3 649.6,1475.3 650.6,1478.3 687.8,1478.3 688.8,1475.3 707.7,1475.3 708.7,1472.7 727.6,1472.7 728.6,1470.3 770.8,1470.3 771.8,1472.7 795.7,1472.7 796.7,1476.0 843.8,1476.0 844.8,1472.7 902.0,1472.7 903.0,1476.0 960.1,1476.0 960.8,1472.7 968.4,1472.7"/>
</g>
<g fill="#000">
</g>
<path d="M99.6,1300.1 L202.6,1300.1 L195.7,1308.3 L189.3,1316.6 L183.3,1324.8 L177.7,1333.1 L172.5,1341.3 L167.6,1349.6 L163.0,1357.8 L158.8,1366.1 L154.8,1374.3 L151.1,1382.6 L147.7,1390.8 L144.5,1399.1 L141.4,1407.3 L138.6,1415.6 L136.0,1423.8 L133.6,1432.1 L131.3,1440.3 L129.2,1448.6 L127.2,1456.8 L125.4,1465.1 L123.6,1473.3 L122.0,1481.6 L120.5,1489.8 L119.1,1498.1 L117.8,1506.3 L116.6,1514.6 L115.5,1522.8 L114.4,1531.1 L113.4,1539.3 L112.5,1547.6 L111.6,1555.8 L110.8,1564.1 L110.1,1572.3 L109.4,1580.6 L108.7,1588.8 L108.1,1597.1 L107.5,1605.3 L107.0,1613.6 L106.5,1621.8 L106.0,1630.1 L99.6,1630.1 Z M966.2,1300.1 L863.2,1300.1 L870.1,1308.3 L876.5,1316.6 L882.6,1324.8 L888.2,1333.1 L893.4,1341.3 L898.3,1349.6 L902.8,1357.8 L907.1,1366.1 L911.0,1374.3 L914.7,1382.6 L918.2,1390.8 L921.4,1399.1 L924.4,1407.3 L927.2,1415.6 L929.8,1423.8 L932.3,1432.1 L934.5,1440.3 L936.7,1448.6 L938.6,1456.8 L940.5,1465.1 L942.2,1473.3 L943.8,1481.6 L945.3,1489.8 L946.7,1498.1 L948.0,1506.3 L949.3,1514.6 L950.4,1522.8 L951.5,1531.1 L952.4,1539.3 L953.4,1547.6 L954.2,1555.8 L955.0,1564.1 L955.8,1572.3 L956.5,1580.6 L957.1,1588.8 L957.8,1597.1 L958.3,1605.3 L958.9,1613.6 L959.3,1621.8 L959.8,1630.1 L966.2,1630.1 Z" fill="#fff" fill-opacity="0.52"/>
</g>
<g stroke="#000" stroke-width="2" fill="none">
<path d="M99.6,1301.1h18M966.2,1301.1h-18"/>
<path d="M99.6,1383.1h18M966.2,1383.1h-18"/>
<path d="M99.6,1465.1h18M966.2,1465.1h-18"/>
<path d="M99.6,1547.1h18M966.2,1547.1h-18"/>
<path d="M99.6,1629.1h18M966.2,1629.1h-18"/>
<path d="M174.0,1630.1v-18"/>
<path d="M314.5,1630.1v-18"/>
<path d="M459.7,1630.1v-18"/>
<path d="M605.0,1630.1v-18"/>
<path d="M750.2,1630.1v-18"/>
<path d="M895.5,1630.1v-18"/>
<rect x="99.6" y="1300.1" width="866.6" height="330.0"/>
</g>
<g font-size="30" text-anchor="end" fill="#000">
<text x="80.5" y="1311.6">64</text>
<text x="80.5" y="1393.6">32</text>
<text x="80.5" y="1475.6">16</text>
<text x="80.5" y="1557.6">8</text>
<text x="80.5" y="1639.6">4</text>
</g>
<text x="48.3" y="1276.9" font-size="34.5" font-weight="bold" fill="#000">D</text>
<g stroke="#000" fill="none">
<path d="M1037.0,1300.0C1039.7,1301.7 1040.0,1301.3 1045.0,1305.0C1050.0,1308.7 1047.7,1306.3 1052.0,1311.0C1056.3,1315.7 1054.7,1313.7 1058.0,1319.0C1061.3,1324.3 1061.7,1320.7 1062.0,1327.0C1062.3,1333.3 1061.7,1330.3 1059.0,1338.0C1056.3,1345.7 1057.3,1342.0 1054.0,1350.0C1050.7,1358.0 1051.7,1354.7 1049.0,1362.0C1046.3,1369.3 1046.0,1365.7 1046.0,1372.0C1046.0,1378.3 1045.0,1375.0 1049.0,1381.0C1053.0,1387.0 1052.7,1384.0 1058.0,1390.0C1063.3,1396.0 1062.3,1393.0 1065.0,1399.0C1067.7,1405.0 1067.7,1402.0 1066.0,1408.0C1064.3,1414.0 1066.0,1411.0 1060.0,1417.0C1054.0,1423.0 1055.3,1420.0 1048.0,1426.0C1040.7,1432.0 1041.7,1430.0 1038.0,1435.0C1034.3,1440.0 1035.3,1437.3 1037.0,1441.0C1038.7,1444.7 1035.3,1443.0 1043.0,1446.0C1050.7,1449.0 1044.3,1447.8 1060.0,1450.0C1075.7,1452.2 1069.7,1451.0 1090.0,1452.5C1110.3,1454.0 1099.5,1452.9 1121.0,1454.4C1142.5,1455.9 1131.0,1455.2 1154.5,1456.9C1178.0,1458.5 1166.7,1457.6 1191.5,1459.4C1216.3,1461.2 1205.1,1460.3 1228.8,1462.2C1252.4,1464.1 1241.6,1463.2 1262.4,1465.0C1283.3,1466.8 1274.8,1465.7 1291.3,1467.5C1307.9,1469.3 1301.3,1468.4 1312.1,1470.3C1322.8,1472.2 1318.6,1471.3 1323.6,1473.1C1328.5,1474.9 1328.6,1473.9 1326.9,1475.6C1325.3,1477.4 1326.3,1476.5 1318.5,1478.4C1310.8,1480.4 1315.6,1479.7 1303.7,1481.5C1291.7,1483.4 1298.2,1482.3 1282.6,1484.1C1267.0,1485.8 1274.6,1485.0 1256.8,1486.9C1239.1,1488.7 1248.0,1487.8 1229.3,1489.7C1210.7,1491.5 1219.3,1490.5 1200.7,1492.5C1182.2,1494.4 1197.2,1492.7 1173.6,1495.5C1150.0,1498.3 1157.9,1496.8 1130.0,1501.0C1102.1,1505.2 1115.0,1502.7 1090.0,1508.0C1065.0,1513.3 1075.0,1510.7 1055.0,1517.0C1035.0,1523.3 1043.7,1520.0 1030.0,1527.0C1016.3,1534.0 1021.7,1531.0 1014.0,1538.0C1006.3,1545.0 1009.3,1540.7 1007.0,1548.0C1004.7,1555.3 1005.7,1551.7 1007.0,1560.0C1008.3,1568.3 1010.0,1563.7 1011.0,1573.0C1012.0,1582.3 1012.0,1578.0 1010.0,1588.0C1008.0,1598.0 1007.7,1593.3 1005.0,1603.0C1002.3,1612.7 1003.7,1608.0 1002.0,1617.0C1000.3,1626.0 1000.7,1625.7 1000.0,1630.0" stroke-width="1.6" stroke-linejoin="round"/>
</g>
<g fill="#000"><circle cx="1121.0" cy="1454.4" r="5.6"/><circle cx="1173.6" cy="1495.5" r="5.6"/><circle cx="1054.0" cy="1311.0" r="5.6"/><circle cx="1056.5" cy="1314.0" r="5.6"/><circle cx="1059.0" cy="1317.0" r="5.6"/><circle cx="1061.0" cy="1320.0" r="5.6"/><circle cx="1062.5" cy="1323.0" r="5.6"/><circle cx="1063.0" cy="1326.0" r="5.6"/><circle cx="1062.0" cy="1329.0" r="5.6"/></g>
<g fill="#ee1111"><circle cx="1154.5" cy="1456.9" r="5.6"/><circle cx="1191.5" cy="1459.4" r="5.6"/><circle cx="1228.8" cy="1462.2" r="5.6"/><circle cx="1262.4" cy="1465.0" r="5.6"/><circle cx="1291.3" cy="1467.5" r="5.6"/><circle cx="1312.1" cy="1470.3" r="5.6"/><circle cx="1323.6" cy="1473.1" r="5.6"/><circle cx="1326.9" cy="1475.6" r="5.6"/><circle cx="1318.5" cy="1478.4" r="5.6"/><circle cx="1303.7" cy="1481.5" r="5.6"/><circle cx="1282.6" cy="1484.1" r="5.6"/><circle cx="1256.8" cy="1486.9" r="5.6"/><circle cx="1229.3" cy="1489.7" r="5.6"/><circle cx="1200.7" cy="1492.5" r="5.6"/></g>
<rect x="1213.5" y="1300.1" width="125.5" height="107" fill="#fff" stroke="#000" stroke-width="1.5"/>
<g stroke="#000" stroke-width="1.9" fill="none">
<path d="M987.1,1383.1h17M1339.0,1383.1h-18"/>
<path d="M987.1,1465.1h17M1339.0,1465.1h-18"/>
<path d="M987.1,1547.1h17M1339.0,1547.1h-18"/>
<path d="M990.4,1630.1v-19"/>
<path d="M1078.2,1630.1v-19"/>
<path d="M1166.3,1630.1v-19"/>
<path d="M1254.0,1630.1v-19"/>
<rect x="987.1" y="1300.1" width="351.9" height="330.0"/>
</g>
<circle cx="1240.6" cy="1336.0" r="5.6" fill="#000"/><circle cx="1240.6" cy="1372.0" r="5.6" fill="#ee1111"/>
<g font-size="30" fill="#000"><text x="1267" y="1346.1">0.05</text><text x="1267" y="1382.1">0.01</text></g>
<g font-size="30" text-anchor="middle" fill="#000">
<text x="990.4" y="1677.4">0</text>
<text x="1078.2" y="1677.4">0.1</text>
<text x="1166.3" y="1677.4">0.2</text>
<text x="1254.0" y="1677.4">0.3</text>
</g>
<g font-size="30" text-anchor="middle" fill="#000">
<text x="174.0" y="1677.3">02-01</text>
<text x="314.5" y="1677.3">04-01</text>
<text x="459.7" y="1677.3">06-01</text>
<text x="605.0" y="1677.3">08-01</text>
<text x="750.2" y="1677.3">10-01</text>
<text x="895.5" y="1677.3">12-01</text>
<text x="530" y="1719">Date</text>
<text x="1169.5" y="1719">Average wavelet power</text>
<text transform="translate(24.3,857.5) rotate(-90)">Period (days)</text>
</g>
<rect x="372.5" y="32.5" width="273" height="26.5" fill="url(#cb)"/>
<g stroke="#000" stroke-width="2" fill="none"><rect x="372.5" y="32.5" width="273" height="26.5"/><path d="M440.7,32.5v26.5M510.5,32.5v26.5M577.4,32.5v26.5"/></g>
<g font-size="30" fill="#000" text-anchor="middle">
<text x="371.5" y="23.5">0.8</text>
<text x="440.7" y="23.5">0.6</text>
<text x="510.5" y="23.5">0.4</text>
<text x="577.4" y="23.5">0.2</text>
<text x="644.5" y="23.5">0.0</text>
<text x="317" y="56">Power</text>
</g>
</svg></body></html>
